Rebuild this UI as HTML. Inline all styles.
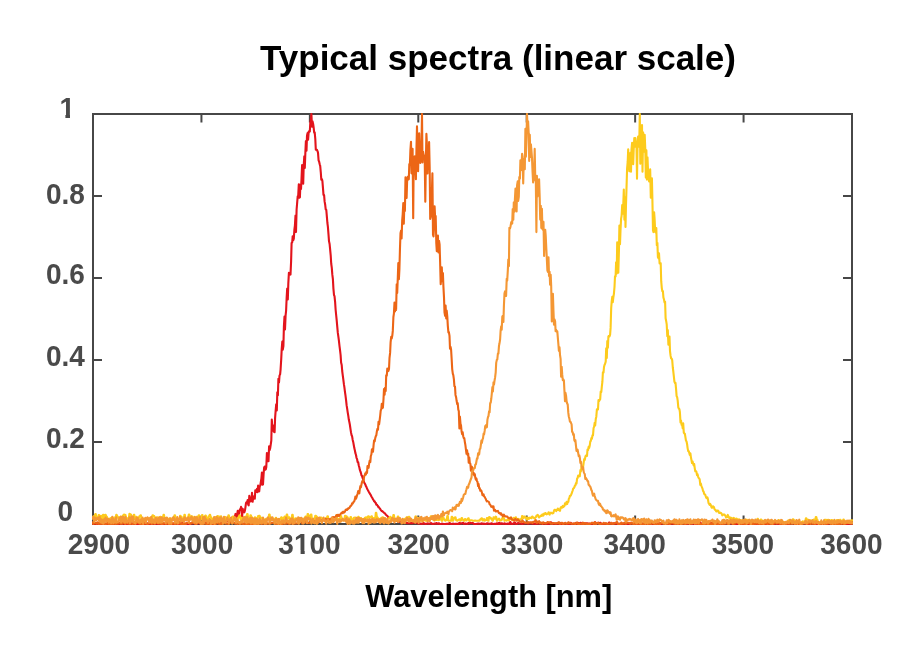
<!DOCTYPE html>
<html><head><meta charset="utf-8"><title>Typical spectra (linear scale)</title><style>
html,body{margin:0;padding:0;background:#fff;width:912px;height:651px;overflow:hidden}
svg{display:block;will-change:transform}
.t{font-family:"Liberation Sans",Arial,Helvetica,sans-serif;font-weight:bold}
</style></head><body>
<svg width="912" height="651" viewBox="0 0 912 651">
<rect width="912" height="651" fill="#fff"/>
<defs><clipPath id="c"><rect x="92" y="113" width="761" height="412"/></clipPath></defs>
<g fill="#474747" shape-rendering="crispEdges">
<rect x="92" y="113" width="2" height="412"/>
<rect x="851" y="113" width="2" height="412"/>
<rect x="92" y="113" width="761" height="2"/>
<rect x="92" y="523" width="761" height="2"/>
</g>
<g stroke="#474747" stroke-width="2">
<line x1="93.00" y1="115" x2="93.00" y2="122.5"/>
<line x1="93.00" y1="523" x2="93.00" y2="515.5"/>
<line x1="201.43" y1="115" x2="201.43" y2="122.5"/>
<line x1="201.43" y1="523" x2="201.43" y2="515.5"/>
<line x1="309.86" y1="115" x2="309.86" y2="122.5"/>
<line x1="309.86" y1="523" x2="309.86" y2="515.5"/>
<line x1="418.29" y1="115" x2="418.29" y2="122.5"/>
<line x1="418.29" y1="523" x2="418.29" y2="515.5"/>
<line x1="526.71" y1="115" x2="526.71" y2="122.5"/>
<line x1="526.71" y1="523" x2="526.71" y2="515.5"/>
<line x1="635.14" y1="115" x2="635.14" y2="122.5"/>
<line x1="635.14" y1="523" x2="635.14" y2="515.5"/>
<line x1="743.57" y1="115" x2="743.57" y2="122.5"/>
<line x1="743.57" y1="523" x2="743.57" y2="515.5"/>
<line x1="852.00" y1="115" x2="852.00" y2="122.5"/>
<line x1="852.00" y1="523" x2="852.00" y2="515.5"/>
<line x1="94" y1="524.00" x2="102" y2="524.00"/>
<line x1="851" y1="524.00" x2="843" y2="524.00"/>
<line x1="94" y1="442.00" x2="102" y2="442.00"/>
<line x1="851" y1="442.00" x2="843" y2="442.00"/>
<line x1="94" y1="360.00" x2="102" y2="360.00"/>
<line x1="851" y1="360.00" x2="843" y2="360.00"/>
<line x1="94" y1="278.00" x2="102" y2="278.00"/>
<line x1="851" y1="278.00" x2="843" y2="278.00"/>
<line x1="94" y1="196.00" x2="102" y2="196.00"/>
<line x1="851" y1="196.00" x2="843" y2="196.00"/>
<line x1="94" y1="114.00" x2="102" y2="114.00"/>
<line x1="851" y1="114.00" x2="843" y2="114.00"/>
</g>
<g clip-path="url(#c)" fill="none" stroke-width="2.1" stroke-linejoin="round">
<path d="M92.0 523.1 92.5 523.1 93.1 523.7 93.6 523.7 94.2 523.6 94.7 523.6 95.3 524.0 95.8 524.0 96.4 524.0 96.9 524.0 97.5 523.0 98.0 523.0 98.6 524.0 99.1 524.0 99.7 524.0 100.2 524.0 100.8 522.9 101.3 522.9 101.9 523.6 102.4 523.6 103.0 523.9 103.5 523.9 104.1 523.7 104.6 523.7 105.2 523.5 105.7 523.5 106.3 523.9 106.8 523.9 107.4 524.0 107.9 524.0 108.5 523.3 109.0 523.3 109.6 523.5 110.1 523.5 110.7 523.7 111.2 523.7 111.8 523.2 112.3 523.2 112.9 523.7 113.4 523.7 114.0 522.8 114.5 522.8 115.1 524.0 115.6 524.0 116.2 523.7 116.7 523.7 117.3 523.8 117.8 523.8 118.4 523.9 118.9 523.9 119.5 523.6 120.0 523.6 120.6 524.0 121.1 523.9 121.7 523.2 122.2 523.2 122.8 523.0 123.3 523.0 123.9 524.0 124.4 524.0 125.0 523.8 125.5 523.8 126.1 523.9 126.6 523.9 127.2 524.0 127.7 524.0 128.3 523.0 128.8 523.0 129.4 523.8 129.9 523.8 130.5 524.0 131.0 524.0 131.6 523.5 132.1 523.5 132.7 524.0 133.2 524.0 133.8 523.0 134.3 523.0 134.9 524.0 135.4 524.0 136.0 524.0 136.5 524.0 137.1 524.0 137.6 524.0 138.2 523.9 138.7 523.9 139.3 523.8 139.8 523.7 140.4 523.0 140.9 523.0 141.5 523.5 142.0 523.5 142.6 523.9 143.1 523.9 143.7 523.9 144.2 524.0 144.8 524.0 145.3 524.0 145.9 522.8 146.4 522.8 147.0 523.8 147.5 523.8 148.1 523.5 148.6 523.4 149.2 524.0 149.7 524.0 150.3 524.0 150.8 524.0 151.4 522.4 151.9 522.4 152.5 523.7 153.0 523.6 153.6 523.6 154.1 523.7 154.7 523.9 155.2 523.9 155.8 523.7 156.3 523.7 156.9 523.5 157.4 523.5 158.0 524.0 158.5 523.9 159.1 523.2 159.6 523.2 160.2 523.9 160.7 523.8 161.3 523.9 161.8 524.0 162.4 523.3 162.9 523.3 163.5 524.0 164.0 524.0 164.6 524.0 165.1 523.9 165.7 523.7 166.2 523.7 166.8 522.1 167.3 522.2 167.9 523.9 168.4 524.0 169.0 523.2 169.5 523.2 170.1 523.9 170.6 523.9 171.2 523.2 171.7 523.2 172.3 524.0 172.8 524.0 173.4 523.9 173.9 523.9 174.5 523.4 175.0 523.4 175.6 523.6 176.1 523.5 176.7 523.1 177.2 523.2 177.8 524.0 178.3 524.0 178.9 523.8 179.4 524.0 180.0 524.0 180.5 524.0 181.1 522.8 181.6 522.7 182.2 523.0 182.7 522.9 183.3 523.9 183.8 523.9 184.4 523.5 184.9 524.0 185.5 523.8 186.0 524.0 186.6 523.3 187.1 523.6 187.7 523.9 188.2 524.0 188.8 523.8 189.3 523.7 189.9 524.0 190.4 524.0 191.0 523.6 191.5 523.5 192.1 523.1 192.6 523.5 193.2 522.8 193.7 522.2 194.3 523.2 194.8 523.6 195.4 523.7 195.9 523.1 196.5 523.7 197.0 523.5 197.6 523.3 198.1 523.3 198.7 522.6 199.2 523.1 199.8 523.7 200.3 523.4 200.9 523.0 201.4 522.9 202.0 523.3 202.5 523.7 203.1 523.5 203.6 523.4 204.2 522.7 204.7 523.0 205.3 522.5 205.8 523.1 206.4 522.6 206.9 522.2 207.5 523.5 208.0 523.5 208.6 522.6 209.1 522.6 209.7 523.1 210.2 523.3 210.8 522.3 211.3 521.3 211.9 524.0 212.4 522.6 213.0 523.7 213.5 522.8 214.1 523.6 214.6 524.0 215.2 523.7 215.7 523.6 216.3 521.1 216.8 522.4 217.4 522.9 217.9 523.0 218.5 522.7 219.0 522.6 219.6 521.8 220.1 522.8 220.7 523.4 221.2 522.3 221.8 520.9 222.3 520.9 222.9 522.6 223.4 522.1 224.0 521.3 224.5 522.1 225.1 522.9 225.6 521.0 226.2 521.2 226.7 520.3 227.3 519.3 227.8 520.7 228.4 521.7 228.9 521.0 229.5 517.9 230.0 518.6 230.6 518.2 231.1 519.5 231.7 517.7 232.2 519.3 232.8 519.2 233.3 517.8 233.9 517.6 234.4 517.5 235.0 516.0 235.5 513.9 236.1 517.2 236.6 518.9 237.2 514.3 237.7 510.9 238.3 511.8 238.8 516.1 239.4 511.3 239.9 509.3 240.5 509.6 241.0 506.9 241.6 508.8 242.1 517.1 242.7 508.7 243.2 511.4 243.8 510.9 244.3 512.3 244.9 510.7 245.4 507.6 246.0 503.1 246.5 502.2 247.1 502.7 247.6 500.1 248.2 504.6 248.7 505.3 249.3 495.7 249.8 499.5 250.4 501.4 250.9 497.2 251.5 501.3 252.0 492.8 252.6 501.8 253.1 498.4 253.7 496.8 254.2 496.2 254.8 498.8 255.3 490.2 255.9 490.8 256.4 492.0 257.0 488.8 257.5 492.1 258.1 485.5 258.6 490.2 259.2 491.4 259.7 486.5 260.3 485.5 260.8 482.1 261.4 478.3 261.9 472.6 262.5 484.8 263.0 484.4 263.6 474.2 264.1 467.8 264.7 466.5 265.2 469.7 265.8 469.4 266.3 467.0 266.9 453.1 267.4 461.1 268.0 456.7 268.5 461.2 269.1 446.4 269.6 450.1 270.2 448.1 270.7 444.9 271.3 440.5 271.8 419.6 272.4 429.0 272.9 425.3 273.5 430.9 274.0 431.8 274.6 432.2 275.1 417.8 275.7 410.2 276.2 404.3 276.8 410.5 277.3 392.3 277.9 395.3 278.4 378.9 279.0 382.3 279.5 375.6 280.1 374.4 280.6 369.3 281.2 359.5 281.7 349.4 282.3 341.6 282.8 349.6 283.4 346.0 283.9 326.5 284.5 316.6 285.0 329.4 285.6 315.3 286.1 310.7 286.7 296.8 287.2 288.5 287.8 299.5 288.3 283.9 288.9 272.7 289.4 274.3 290.0 272.8 290.5 274.6 291.1 261.3 291.6 243.0 292.2 242.4 292.7 236.2 293.3 240.1 293.8 238.7 294.4 229.6 294.9 225.7 295.5 215.6 296.0 232.0 296.6 209.5 297.1 203.5 297.7 196.4 298.2 196.1 298.8 184.3 299.3 197.8 299.9 197.2 300.4 184.5 301.0 188.9 301.5 179.4 302.1 165.0 302.6 168.4 303.2 183.8 303.7 165.8 304.3 156.2 304.8 168.0 305.4 151.5 305.9 141.1 306.5 150.6 307.0 135.8 307.6 133.0 308.1 139.6 308.7 131.7 309.2 131.0 309.8 131.6 310.3 122.7 310.9 119.3 311.4 114.0 312.0 126.7 312.5 121.3 313.1 123.7 313.6 127.2 314.2 132.7 314.7 132.3 315.3 139.0 315.8 149.7 316.4 149.7 316.9 149.8 317.5 151.1 318.0 152.6 318.6 160.5 319.1 161.5 319.7 164.3 320.2 165.9 320.8 172.5 321.3 179.6 321.9 179.1 322.4 181.1 323.0 188.4 323.5 194.9 324.1 195.1 324.6 201.4 325.2 204.8 325.7 209.3 326.3 210.0 326.8 215.8 327.4 223.0 327.9 226.8 328.5 234.3 329.0 241.1 329.6 244.0 330.1 249.1 330.7 255.3 331.2 263.5 331.8 267.8 332.3 274.4 332.9 279.1 333.4 288.4 334.0 295.0 334.5 296.1 335.1 301.8 335.6 309.5 336.2 315.5 336.7 320.4 337.3 327.1 337.8 332.7 338.4 336.9 338.9 340.6 339.5 346.0 340.0 349.8 340.6 355.0 341.1 362.5 341.7 365.0 342.2 371.0 342.8 375.6 343.3 379.4 343.9 384.2 344.4 387.4 345.0 392.1 345.5 395.6 346.1 400.4 346.6 405.2 347.2 408.9 347.7 412.3 348.3 415.9 348.8 419.6 349.4 422.3 349.9 425.0 350.5 429.2 351.0 432.4 351.6 435.3 352.1 436.3 352.7 439.9 353.2 441.9 353.8 445.3 354.3 448.1 354.9 450.5 355.4 453.2 356.0 455.0 356.5 457.8 357.1 459.2 357.6 462.1 358.2 462.3 358.7 465.2 359.3 467.2 359.8 469.7 360.4 471.5 360.9 472.8 361.5 475.5 362.0 475.9 362.6 478.0 363.1 478.9 363.7 481.1 364.2 482.4 364.8 483.5 365.3 484.4 365.9 486.1 366.4 486.8 367.0 488.5 367.5 489.4 368.1 490.6 368.6 491.5 369.2 492.5 369.7 493.4 370.3 494.3 370.8 495.1 371.4 496.5 371.9 497.3 372.5 498.3 373.0 499.4 373.6 500.1 374.1 501.2 374.7 501.3 375.2 502.6 375.8 502.9 376.3 504.7 376.9 504.5 377.4 505.3 378.0 506.2 378.5 507.3 379.1 507.4 379.6 508.4 380.2 508.9 380.7 509.8 381.3 510.6 381.8 511.2 382.4 511.1 382.9 511.8 383.5 512.3 384.0 512.8 384.6 513.3 385.1 513.5 385.7 514.5 386.2 515.0 386.8 515.5 387.3 515.9 387.9 516.9 388.4 517.3 389.0 517.8 389.5 518.1 390.1 518.2 390.6 518.8 391.2 518.6 391.7 519.0 392.3 519.6 392.8 520.0 393.4 519.5 393.9 519.9 394.5 520.2 395.0 520.4 395.6 520.7 396.1 520.9 396.7 519.4 397.2 519.6 397.8 521.8 398.3 521.7 398.9 521.7 399.4 521.9 400.0 521.6 400.5 521.7 401.1 521.3 401.6 521.5 402.2 522.4 402.7 522.3 403.3 522.6 403.8 522.6 404.4 522.9 404.9 523.0 405.5 522.5 406.0 522.6 406.6 523.0 407.1 523.0 407.7 523.1 408.2 523.1 408.8 523.2 409.3 523.3 409.9 523.2 410.4 523.3 411.0 523.1 411.5 523.1 412.1 523.2 412.6 523.3 413.2 522.6 413.7 522.7 414.3 522.6 414.8 522.7 415.4 522.6 415.9 522.7 416.5 522.6 417.0 522.7 417.6 523.4 418.1 523.5 418.7 523.4 419.2 523.4 419.8 523.6 420.3 523.6 420.9 523.6 421.4 523.7 422.0 523.9 422.5 523.8 423.1 522.8 423.6 522.8 424.2 523.8 424.7 523.8 425.3 523.9 425.8 523.9 426.4 523.7 426.9 523.7 427.5 523.3 428.0 523.3 428.6 523.7 429.1 523.7 429.7 523.5 430.2 523.5 430.8 523.0 431.3 523.0 431.9 523.9 432.4 523.9 433.0 524.0 433.5 524.0 434.1 523.6 434.6 523.5 435.2 523.7 435.7 523.7 436.3 523.1 436.8 523.1 437.4 523.8 437.9 523.8 438.5 523.2 439.0 523.3 439.6 524.0 440.1 524.0 440.7 524.0 441.2 524.0 441.8 523.6 442.3 523.6 442.9 523.9 443.4 524.0 444.0 524.0 444.5 524.0 445.1 524.0 445.6 524.0 446.2 523.8 446.7 523.9 447.3 523.9 447.8 523.9 448.4 523.6 448.9 523.6 449.5 523.0 450.0 523.0 450.6 523.9 451.1 523.9 451.7 524.0 452.2 524.0 452.8 523.6 453.3 523.6 453.9 524.0 454.4 524.0 455.0 523.8 455.5 523.8 456.1 523.9 456.6 523.9 457.2 523.8 457.7 523.8 458.3 524.0 458.8 524.0 459.4 522.8 459.9 522.8 460.5 523.6 461.0 523.6 461.6 523.3 462.1 523.3 462.7 522.9 463.2 522.9 463.8 523.9 464.3 523.9 464.9 523.5 465.4 523.5 466.0 523.8 466.5 523.8 467.1 524.0 467.6 524.0 468.2 523.0 468.7 523.1 469.3 523.4 469.8 523.4 470.4 522.9 470.9 522.9 471.5 523.2 472.0 523.2 472.6 523.0 473.1 523.0 473.7 524.0 474.2 524.0 474.8 524.0 475.3 524.0 475.9 524.0 476.4 524.0 477.0 523.8 477.5 523.8 478.1 523.5 478.6 523.5 479.2 523.8 479.7 523.8 480.3 523.7 480.8 523.7 481.4 523.3 481.9 523.3 482.5 524.0 483.0 524.0 483.6 523.5 484.1 523.5 484.7 524.0 485.2 524.0 485.8 523.9 486.3 523.9 486.9 523.4 487.4 523.4 488.0 523.5 488.5 523.5 489.1 523.8 489.6 523.8 490.2 523.9 490.7 523.9 491.3 523.2 491.8 523.2 492.4 523.9 492.9 523.9 493.5 524.0 494.0 524.0 494.6 523.9 495.1 523.9 495.7 524.0 496.2 524.0 496.8 523.2 497.3 523.2 497.9 524.0 498.4 524.0 499.0 522.8 499.5 522.8 500.1 524.0 500.6 524.0 501.2 523.2 501.7 523.2 502.3 523.6 502.8 523.6 503.4 523.9 503.9 523.9 504.5 523.4 505.0 523.4 505.6 524.0 506.1 524.0 506.7 523.8 507.2 523.8 507.8 523.5 508.3 523.5 508.9 524.0 509.4 524.0 510.0 522.1 510.5 522.1 511.1 523.9 511.6 523.9 512.2 523.9 512.7 523.9 513.3 523.5 513.8 523.5 514.4 522.3 514.9 522.3 515.5 523.9 516.0 523.9 516.6 523.9 517.1 523.9 517.7 523.1 518.2 523.1 518.8 523.3 519.3 523.3 519.9 523.6 520.4 523.6 521.0 523.4 521.5 523.4 522.1 524.0 522.6 524.0 523.2 523.3 523.7 523.3 524.3 523.4 524.8 523.4 525.4 523.0 525.9 523.0 526.5 523.3 527.0 523.3 527.6 523.8 528.1 523.8 528.7 523.4 529.2 523.4 529.8 523.0 530.3 523.0 530.9 523.4 531.4 523.4 532.0 523.6 532.5 523.6 533.1 523.5 533.6 523.5 534.2 523.8 534.7 523.8 535.3 523.9 535.8 523.9 536.4 523.6 536.9 523.6 537.5 523.8 538.0 523.8 538.6 523.4 539.1 523.4 539.7 522.9 540.2 522.9 540.8 523.1 541.3 523.1 541.9 523.8 542.4 523.8 543.0 523.9 543.5 523.9 544.1 523.0 544.6 523.0 545.2 523.8 545.7 523.8 546.3 523.2 546.8 523.2 547.4 524.0 547.9 524.0 548.5 523.8 549.0 523.8 549.6 523.7 550.1 523.7 550.7 522.3 551.2 522.3 551.8 523.1 552.3 523.1 552.9 524.0 553.4 524.0 554.0 523.6 554.5 523.6 555.1 523.6 555.6 523.6 556.2 524.0 556.7 524.0 557.3 523.2 557.8 523.2 558.4 523.7 558.9 523.7 559.5 522.9 560.0 522.9 560.6 524.0 561.1 524.0 561.7 523.7 562.2 523.7 562.8 523.9 563.3 523.9 563.9 523.5 564.4 523.5 565.0 523.6 565.5 523.6 566.1 523.7 566.6 523.7 567.2 523.9 567.7 523.9 568.3 523.7 568.8 523.7 569.4 523.9 569.9 523.9 570.5 522.9 571.0 522.9 571.6 523.8 572.1 523.8 572.7 523.8 573.2 523.8 573.8 523.9 574.3 523.9 574.9 523.9 575.4 523.9 576.0 522.9 576.5 522.9 577.1 523.9 577.6 523.9 578.2 523.1 578.7 523.1 579.3 523.6 579.8 523.6 580.4 522.8 580.9 522.8 581.5 524.0 582.0 524.0 582.6 522.9 583.1 522.9 583.7 523.3 584.2 523.3 584.8 523.6 585.3 523.6 585.9 523.4 586.4 523.4 587.0 523.4 587.5 523.4 588.1 523.8 588.6 523.8 589.2 523.5 589.7 523.5 590.3 524.0 590.8 524.0 591.4 524.0 591.9 524.0 592.5 523.5 593.0 523.5 593.6 523.8 594.1 523.8 594.7 522.2 595.2 522.2 595.8 523.9 596.3 523.9 596.9 523.2 597.4 523.2 598.0 522.8 598.5 522.8 599.1 523.0 599.6 523.0 600.2 522.9 600.7 522.9 601.3 524.0 601.8 524.0 602.4 524.0 602.9 524.0 603.5 524.0 604.0 524.0 604.6 523.9 605.1 523.9 605.7 524.0 606.2 524.0 606.8 524.0 607.3 524.0 607.9 524.0 608.4 524.0 609.0 522.5 609.5 522.5 610.1 523.3 610.6 523.3 611.2 523.6 611.7 523.6 612.3 523.8 612.8 523.8 613.4 523.4 613.9 523.4 614.5 523.2 615.0 523.2 615.6 523.9 616.1 523.9 616.7 523.5 617.2 523.5 617.8 524.0 618.3 524.0 618.9 523.9 619.4 523.9 620.0 524.0 620.5 524.0 621.1 523.9 621.6 523.9 622.2 523.9 622.7 523.9 623.3 523.6 623.8 523.6 624.4 523.9 624.9 523.9 625.5 523.9 626.0 523.9 626.6 523.2 627.1 523.2 627.7 524.0 628.2 524.0 628.8 523.4 629.3 523.4 629.9 524.0 630.4 524.0 631.0 523.1 631.5 523.1 632.1 523.2 632.6 523.2 633.2 523.4 633.7 523.4 634.3 522.9 634.8 522.9 635.4 524.0 635.9 524.0 636.5 523.0 637.0 523.0 637.6 523.9 638.1 523.9 638.7 523.7 639.2 523.7 639.8 523.5 640.3 523.5 640.9 523.3 641.4 523.3 642.0 523.9 642.5 523.9 643.1 523.8 643.6 523.8 644.2 524.0 644.7 524.0 645.3 523.9 645.8 523.9 646.4 522.8 646.9 522.8 647.5 523.0 648.0 523.0 648.6 523.6 649.1 523.6 649.7 522.7 650.2 522.7 650.8 523.0 651.3 523.0 651.9 523.9 652.4 523.9 653.0 522.8 653.5 522.8 654.1 523.8 654.6 523.8 655.2 524.0 655.7 524.0 656.3 523.7 656.8 523.7 657.4 523.6 657.9 523.6 658.5 523.5 659.0 523.5 659.6 523.2 660.1 523.2 660.7 524.0 661.2 524.0 661.8 523.5 662.3 523.5 662.9 523.0 663.4 523.0 664.0 523.5 664.5 523.5 665.1 522.8 665.6 522.8 666.2 523.7 666.7 523.7 667.3 523.2 667.8 523.2 668.4 524.0 668.9 524.0 669.5 523.0 670.0 523.0 670.6 523.8 671.1 523.8 671.7 523.1 672.2 523.1 672.8 523.9 673.3 523.9 673.9 523.6 674.4 523.6 675.0 523.1 675.5 523.1 676.1 523.4 676.6 523.4 677.2 523.6 677.7 523.6 678.3 522.8 678.8 522.8 679.4 524.0 679.9 524.0 680.5 524.0 681.0 524.0 681.6 523.7 682.1 523.7 682.7 522.9 683.2 522.9 683.8 523.5 684.3 523.5 684.9 523.9 685.4 523.9 686.0 524.0 686.5 524.0 687.1 523.8 687.6 523.8 688.2 523.8 688.7 523.8 689.3 523.8 689.8 523.8 690.4 523.6 690.9 523.6 691.5 523.9 692.0 523.9 692.6 523.1 693.1 523.1 693.7 523.9 694.2 523.9 694.8 524.0 695.3 524.0 695.9 523.9 696.4 523.9 697.0 522.9 697.5 522.9 698.1 524.0 698.6 524.0 699.2 523.9 699.7 523.9 700.3 523.0 700.8 523.0 701.4 523.9 701.9 523.9 702.5 523.2 703.0 523.2 703.6 524.0 704.1 524.0 704.7 523.0 705.2 523.0 705.8 523.9 706.3 523.9 706.9 524.0 707.4 524.0 708.0 523.4 708.5 523.4 709.1 521.8 709.6 521.8 710.2 522.9 710.7 522.9 711.3 523.3 711.8 523.3 712.4 522.7 712.9 522.7 713.5 522.8 714.0 522.8 714.6 523.7 715.1 523.7 715.7 524.0 716.2 524.0 716.8 523.1 717.3 523.1 717.9 523.8 718.4 523.8 719.0 523.9 719.5 523.9 720.1 523.7 720.6 523.7 721.2 524.0 721.7 524.0 722.3 524.0 722.8 524.0 723.4 523.9 723.9 523.9 724.5 523.6 725.0 523.6 725.6 523.3 726.1 523.3 726.7 522.9 727.2 522.9 727.8 523.2 728.3 523.2 728.9 522.9 729.4 522.9 730.0 523.5 730.5 523.5 731.1 523.4 731.6 523.4 732.2 523.6 732.7 523.6 733.3 524.0 733.8 524.0 734.4 524.0 734.9 524.0 735.5 523.3 736.0 523.3 736.6 523.9 737.1 523.9 737.7 523.3 738.2 523.3 738.8 523.8 739.3 523.8 739.9 524.0 740.4 524.0 741.0 523.7 741.5 523.7 742.1 523.8 742.6 523.8 743.2 524.0 743.7 524.0 744.3 523.9 744.8 523.9 745.4 523.9 745.9 523.9 746.5 523.9 747.0 523.9 747.6 523.4 748.1 523.4 748.7 524.0 749.2 524.0 749.8 523.8 750.3 523.8 750.9 523.6 751.4 523.6 752.0 522.9 752.5 522.9 753.1 524.0 753.6 524.0 754.2 524.0 754.7 524.0 755.3 523.7 755.8 523.7 756.4 524.0 756.9 524.0 757.5 523.7 758.0 523.7 758.6 524.0 759.1 524.0 759.7 524.0 760.2 524.0 760.8 524.0 761.3 524.0 761.9 523.8 762.4 523.8 763.0 523.5 763.5 523.5 764.1 523.9 764.6 523.9 765.2 524.0 765.7 524.0 766.3 524.0 766.8 524.0 767.4 523.9 767.9 523.9 768.5 524.0 769.0 524.0 769.6 523.8 770.1 523.8 770.7 523.1 771.2 523.1 771.8 523.4 772.3 523.4 772.9 524.0 773.4 524.0 774.0 524.0 774.5 524.0 775.1 523.2 775.6 523.2 776.2 523.5 776.7 523.5 777.3 523.9 777.8 523.9 778.4 523.5 778.9 523.5 779.5 524.0 780.0 524.0 780.6 523.9 781.1 523.9 781.7 523.5 782.2 523.5 782.8 523.4 783.3 523.4 783.9 523.7 784.4 523.7 785.0 523.0 785.5 523.0 786.1 524.0 786.6 524.0 787.2 524.0 787.7 524.0 788.3 523.6 788.8 523.6 789.4 523.6 789.9 523.6 790.5 522.8 791.0 522.8 791.6 522.8 792.1 522.8 792.7 523.6 793.2 523.6 793.8 523.3 794.3 523.3 794.9 523.4 795.4 523.4 796.0 524.0 796.5 524.0 797.1 523.6 797.6 523.6 798.2 523.9 798.7 523.9 799.3 523.2 799.8 523.2 800.4 524.0 800.9 524.0 801.5 524.0 802.0 524.0 802.6 523.1 803.1 523.1 803.7 523.4 804.2 523.4 804.8 523.3 805.3 523.3 805.9 523.9 806.4 523.9 807.0 523.8 807.5 523.8 808.1 524.0 808.6 524.0 809.2 523.6 809.7 523.6 810.3 523.2 810.8 523.2 811.4 523.3 811.9 523.3 812.5 522.9 813.0 522.9 813.6 523.9 814.1 523.9 814.7 523.4 815.2 523.4 815.8 524.0 816.3 524.0 816.9 523.7 817.4 523.7 818.0 524.0 818.5 524.0 819.1 523.7 819.6 523.7 820.2 522.7 820.7 522.7 821.3 523.9 821.8 523.9 822.4 523.9 822.9 523.9 823.5 523.4 824.0 523.4 824.6 523.8 825.1 523.8 825.7 523.8 826.2 523.8 826.8 524.0 827.3 524.0 827.9 523.9 828.4 523.9 829.0 523.1 829.5 523.1 830.1 522.8 830.6 522.8 831.2 523.9 831.7 523.9 832.3 523.1 832.8 523.1 833.4 523.1 833.9 523.1 834.5 524.0 835.0 524.0 835.6 523.9 836.1 523.9 836.7 523.4 837.2 523.4 837.8 523.0 838.3 523.0 838.9 522.9 839.4 522.9 840.0 523.9 840.5 523.9 841.1 523.4 841.6 523.4 842.2 523.4 842.7 523.4 843.3 524.0 843.8 524.0 844.4 523.1 844.9 523.1 845.5 523.9 846.0 523.9 846.6 524.0 847.1 524.0 847.7 524.0 848.2 524.0 848.8 523.8 849.3 523.8 849.9 523.5 850.4 523.5 851.0 523.9 851.5 523.9 852.1 522.7 852.6 522.7 853.2 523.9" stroke="#e3141c"/>
<path d="M92.0 518.1 92.5 518.1 93.1 516.5 93.6 516.5 94.2 515.9 94.7 515.9 95.3 514.1 95.8 514.1 96.4 518.7 96.9 518.7 97.5 518.7 98.0 518.7 98.6 515.1 99.1 515.1 99.7 519.0 100.2 519.0 100.8 515.8 101.3 515.8 101.9 518.7 102.4 518.7 103.0 514.8 103.5 514.8 104.1 518.1 104.6 518.1 105.2 514.8 105.7 514.8 106.3 516.6 106.8 516.6 107.4 519.1 107.9 519.1 108.5 518.7 109.0 518.7 109.6 518.8 110.1 518.8 110.7 518.0 111.2 518.0 111.8 517.8 112.3 517.8 112.9 518.9 113.4 518.9 114.0 517.5 114.5 517.5 115.1 517.7 115.6 517.7 116.2 514.9 116.7 514.9 117.3 516.5 117.8 516.5 118.4 518.9 118.9 518.9 119.5 519.1 120.0 519.1 120.6 516.9 121.1 516.9 121.7 518.2 122.2 518.2 122.8 515.6 123.3 515.6 123.9 514.6 124.4 514.6 125.0 514.9 125.5 515.0 126.1 519.0 126.6 519.0 127.2 518.2 127.7 518.2 128.3 518.7 128.8 518.7 129.4 513.9 129.9 513.9 130.5 514.6 131.0 514.6 131.6 517.2 132.1 517.2 132.7 519.3 133.2 519.3 133.8 514.8 134.3 514.8 134.9 519.3 135.4 519.3 136.0 516.9 136.5 516.9 137.1 518.7 137.6 518.7 138.2 519.1 138.7 519.1 139.3 516.2 139.8 516.3 140.4 515.2 140.9 515.2 141.5 518.8 142.0 518.8 142.6 518.9 143.1 518.9 143.7 519.2 144.2 519.2 144.8 518.8 145.3 518.8 145.9 518.3 146.4 518.3 147.0 518.3 147.5 518.3 148.1 519.3 148.6 519.3 149.2 519.3 149.7 519.3 150.3 517.6 150.8 517.7 151.4 519.3 151.9 519.3 152.5 515.3 153.0 515.3 153.6 515.7 154.1 515.7 154.7 518.0 155.2 518.0 155.8 519.3 156.3 519.3 156.9 517.2 157.4 517.2 158.0 518.1 158.5 518.1 159.1 518.6 159.6 518.6 160.2 516.8 160.7 516.8 161.3 519.1 161.8 519.1 162.4 517.7 162.9 517.7 163.5 514.9 164.0 514.9 164.6 519.1 165.1 519.1 165.7 519.4 166.2 519.4 166.8 517.8 167.3 517.8 167.9 519.2 168.4 519.2 169.0 518.9 169.5 518.9 170.1 519.0 170.6 519.0 171.2 518.6 171.7 518.6 172.3 519.1 172.8 519.1 173.4 518.5 173.9 518.5 174.5 515.2 175.0 515.2 175.6 518.9 176.1 518.9 176.7 519.3 177.2 519.3 177.8 519.5 178.3 519.5 178.9 519.5 179.4 519.5 180.0 515.8 180.5 515.8 181.1 516.8 181.6 516.8 182.2 519.3 182.7 519.3 183.3 518.9 183.8 518.9 184.4 514.8 184.9 514.8 185.5 519.0 186.0 519.0 186.6 519.5 187.1 519.5 187.7 517.7 188.2 517.7 188.8 514.5 189.3 514.5 189.9 518.8 190.4 518.8 191.0 516.2 191.5 516.2 192.1 516.6 192.6 516.6 193.2 517.7 193.7 517.7 194.3 519.4 194.8 519.4 195.4 519.5 195.9 519.5 196.5 516.8 197.0 516.8 197.6 517.5 198.1 517.5 198.7 515.3 199.2 515.3 199.8 519.5 200.3 519.5 200.9 519.4 201.4 519.4 202.0 515.1 202.5 515.1 203.1 519.0 203.6 519.0 204.2 517.3 204.7 517.3 205.3 515.6 205.8 515.6 206.4 518.3 206.9 518.3 207.5 519.6 208.0 519.6 208.6 516.3 209.1 516.3 209.7 514.9 210.2 514.9 210.8 517.4 211.3 517.4 211.9 519.3 212.4 519.3 213.0 518.8 213.5 518.8 214.1 519.2 214.6 519.2 215.2 517.0 215.7 517.0 216.3 518.4 216.8 518.4 217.4 516.0 217.9 516.1 218.5 518.2 219.0 518.2 219.6 516.6 220.1 516.6 220.7 516.4 221.2 516.4 221.8 519.7 222.3 519.7 222.9 519.6 223.4 519.7 224.0 519.7 224.5 519.7 225.1 517.0 225.6 517.0 226.2 519.0 226.7 519.0 227.3 519.3 227.8 519.3 228.4 515.4 228.9 515.4 229.5 518.3 230.0 518.3 230.6 518.7 231.1 518.7 231.7 519.7 232.2 519.7 232.8 516.5 233.3 516.6 233.9 519.7 234.4 519.7 235.0 517.8 235.5 517.8 236.1 519.3 236.6 519.3 237.2 519.1 237.7 519.1 238.3 517.2 238.8 517.2 239.4 515.4 239.9 515.4 240.5 519.2 241.0 519.2 241.6 517.7 242.1 517.7 242.7 518.5 243.2 518.5 243.8 518.5 244.3 518.5 244.9 516.8 245.4 516.8 246.0 517.3 246.5 517.3 247.1 514.0 247.6 514.1 248.2 518.4 248.7 518.5 249.3 519.8 249.8 519.8 250.4 515.4 250.9 515.4 251.5 517.3 252.0 517.3 252.6 519.8 253.1 519.8 253.7 519.2 254.2 519.2 254.8 517.3 255.3 517.3 255.9 518.1 256.4 518.1 257.0 519.4 257.5 519.4 258.1 516.0 258.6 516.0 259.2 515.8 259.7 515.8 260.3 517.7 260.8 517.7 261.4 517.9 261.9 517.9 262.5 519.1 263.0 519.1 263.6 519.9 264.1 519.9 264.7 519.7 265.2 519.7 265.8 518.7 266.3 518.8 266.9 519.8 267.4 519.8 268.0 518.3 268.5 518.3 269.1 514.5 269.6 514.5 270.2 518.2 270.7 518.2 271.3 518.5 271.8 518.5 272.4 518.2 272.9 518.3 273.5 519.2 274.0 519.2 274.6 519.5 275.1 519.5 275.7 517.8 276.2 517.8 276.8 519.2 277.3 519.2 277.9 519.9 278.4 519.9 279.0 519.9 279.5 519.9 280.1 519.3 280.6 519.3 281.2 517.2 281.7 517.2 282.3 520.0 282.8 520.0 283.4 518.0 283.9 518.0 284.5 516.6 285.0 516.6 285.6 520.0 286.1 520.0 286.7 514.6 287.2 514.6 287.8 518.0 288.3 518.0 288.9 517.4 289.4 517.4 290.0 520.0 290.5 520.0 291.1 519.5 291.6 519.5 292.2 514.9 292.7 514.9 293.3 519.9 293.8 519.9 294.4 518.9 294.9 518.9 295.5 518.3 296.0 518.3 296.6 519.2 297.1 519.2 297.7 518.9 298.2 518.9 298.8 520.1 299.3 520.1 299.9 520.1 300.4 520.1 301.0 519.4 301.5 519.4 302.1 519.3 302.6 519.3 303.2 519.1 303.7 519.1 304.3 518.2 304.8 518.2 305.4 516.5 305.9 516.5 306.5 519.9 307.0 519.9 307.6 514.0 308.1 514.1 308.7 515.6 309.2 515.6 309.8 520.1 310.3 520.1 310.9 514.5 311.4 514.5 312.0 520.0 312.5 520.0 313.1 520.1 313.6 520.2 314.2 519.3 314.7 519.3 315.3 515.7 315.8 515.7 316.4 516.6 316.9 516.6 317.5 519.5 318.0 519.5 318.6 520.1 319.1 520.1 319.7 519.6 320.2 519.6 320.8 517.6 321.3 517.6 321.9 520.2 322.4 520.2 323.0 518.6 323.5 518.6 324.1 520.1 324.6 520.1 325.2 518.2 325.7 518.2 326.3 518.8 326.8 518.8 327.4 516.2 327.9 516.2 328.5 520.0 329.0 520.0 329.6 519.3 330.1 519.3 330.7 520.2 331.2 520.2 331.8 518.1 332.3 518.2 332.9 519.6 333.4 519.6 334.0 520.1 334.5 520.1 335.1 519.9 335.6 519.9 336.2 515.3 336.7 515.3 337.3 520.2 337.8 520.2 338.4 519.0 338.9 519.1 339.5 520.1 340.0 520.1 340.6 516.0 341.1 516.0 341.7 520.3 342.2 520.3 342.8 520.3 343.3 520.3 343.9 520.3 344.4 520.3 345.0 515.9 345.5 515.9 346.1 516.2 346.6 516.2 347.2 517.3 347.7 517.3 348.3 520.3 348.8 520.3 349.4 520.1 349.9 520.1 350.5 517.0 351.0 517.0 351.6 519.6 352.1 519.6 352.7 520.3 353.2 520.3 353.8 517.9 354.3 517.9 354.9 517.5 355.4 517.5 356.0 518.1 356.5 518.1 357.1 520.0 357.6 520.0 358.2 516.9 358.7 516.9 359.3 520.4 359.8 520.4 360.4 518.0 360.9 518.0 361.5 518.7 362.0 518.7 362.6 519.5 363.1 519.5 363.7 519.6 364.2 519.6 364.8 517.9 365.3 517.9 365.9 517.4 366.4 517.4 367.0 518.5 367.5 518.5 368.1 516.2 368.6 516.2 369.2 517.0 369.7 517.0 370.3 517.5 370.8 517.5 371.4 516.3 371.9 516.3 372.5 520.4 373.0 520.4 373.6 518.0 374.1 518.0 374.7 519.2 375.2 519.2 375.8 512.9 376.3 512.9 376.9 517.1 377.4 517.1 378.0 518.4 378.5 518.4 379.1 519.0 379.6 519.0 380.2 520.0 380.7 520.0 381.3 517.8 381.8 517.8 382.4 517.4 382.9 517.4 383.5 518.1 384.0 518.1 384.6 518.6 385.1 518.6 385.7 520.5 386.2 520.5 386.8 519.6 387.3 519.6 387.9 518.5 388.4 518.5 389.0 518.1 389.5 518.1 390.1 516.9 390.6 516.9 391.2 520.5 391.7 520.5 392.3 519.9 392.8 519.9 393.4 515.0 393.9 515.0 394.5 519.6 395.0 519.7 395.6 520.5 396.1 520.5 396.7 520.6 397.2 520.6 397.8 516.5 398.3 516.5 398.9 520.5 399.4 520.5 400.0 519.8 400.5 519.8 401.1 519.9 401.6 519.9 402.2 520.0 402.7 520.0 403.3 519.9 403.8 519.9 404.4 519.1 404.9 519.1 405.5 518.3 406.0 518.3 406.6 517.2 407.1 517.2 407.7 519.6 408.2 519.6 408.8 516.7 409.3 516.7 409.9 520.6 410.4 520.6 411.0 520.6 411.5 520.6 412.1 520.6 412.6 520.6 413.2 520.4 413.7 520.4 414.3 519.6 414.8 519.6 415.4 516.5 415.9 516.4 416.5 520.3 417.0 520.3 417.6 517.7 418.1 517.7 418.7 520.5 419.2 520.5 419.8 520.7 420.3 520.6 420.9 520.6 421.4 520.6 422.0 520.5 422.5 520.5 423.1 520.5 423.6 520.5 424.2 519.9 424.7 519.9 425.3 520.7 425.8 520.7 426.4 520.6 426.9 520.6 427.5 520.7 428.0 520.7 428.6 518.7 429.1 518.7 429.7 518.4 430.2 518.4 430.8 516.4 431.3 516.3 431.9 517.7 432.4 517.7 433.0 517.8 433.5 517.8 434.1 520.5 434.6 520.5 435.2 517.6 435.7 517.6 436.3 520.0 436.8 520.0 437.4 518.9 437.9 518.9 438.5 520.1 439.0 520.0 439.6 519.4 440.1 519.4 440.7 517.8 441.2 517.7 441.8 520.7 442.3 520.7 442.9 517.2 443.4 517.2 444.0 519.2 444.5 519.2 445.1 520.7 445.6 520.7 446.2 519.9 446.7 519.9 447.3 516.1 447.8 516.0 448.4 520.7 448.9 520.8 449.5 520.8 450.0 520.8 450.6 520.8 451.1 520.8 451.7 516.7 452.2 516.7 452.8 520.6 453.3 520.6 453.9 518.1 454.4 518.2 455.0 517.2 455.5 517.2 456.1 520.1 456.6 520.1 457.2 520.7 457.7 520.7 458.3 519.9 458.8 519.8 459.4 519.2 459.9 519.2 460.5 520.6 461.0 520.5 461.6 518.0 462.1 518.0 462.7 519.8 463.2 519.7 463.8 520.8 464.3 520.7 464.9 519.1 465.4 519.1 466.0 520.4 466.5 520.4 467.1 519.4 467.6 519.4 468.2 518.3 468.7 518.4 469.3 520.9 469.8 520.9 470.4 520.2 470.9 520.2 471.5 520.2 472.0 520.2 472.6 520.7 473.1 520.7 473.7 520.7 474.2 520.7 474.8 520.6 475.3 520.6 475.9 520.7 476.4 520.8 477.0 520.7 477.5 520.8 478.1 520.7 478.6 520.6 479.2 520.5 479.7 520.6 480.3 519.2 480.8 519.2 481.4 518.3 481.9 518.4 482.5 520.4 483.0 520.5 483.6 519.2 484.1 519.1 484.7 520.6 485.2 520.5 485.8 520.0 486.3 520.0 486.9 518.1 487.4 518.0 488.0 520.8 488.5 520.8 489.1 517.1 489.6 517.1 490.2 517.9 490.7 517.9 491.3 518.9 491.8 518.9 492.4 520.6 492.9 520.6 493.5 517.4 494.0 517.3 494.6 518.7 495.1 518.7 495.7 516.7 496.2 516.9 496.8 520.6 497.3 520.6 497.9 519.4 498.4 519.5 499.0 518.6 499.5 519.1 500.1 520.5 500.6 520.4 501.2 520.2 501.7 520.0 502.3 518.1 502.8 518.2 503.4 517.6 503.9 517.9 504.5 520.7 505.0 520.2 505.6 520.2 506.1 520.2 506.7 520.6 507.2 520.4 507.8 519.1 508.3 519.3 508.9 520.4 509.4 520.1 510.0 517.8 510.5 517.6 511.1 518.9 511.6 519.0 512.2 520.1 512.7 520.1 513.3 518.3 513.8 517.8 514.4 520.3 514.9 520.2 515.5 517.5 516.0 517.3 516.6 519.7 517.1 520.1 517.7 519.1 518.2 518.8 518.8 520.0 519.3 520.0 519.9 519.5 520.4 519.2 521.0 519.3 521.5 519.4 522.1 516.0 522.6 516.2 523.2 517.8 523.7 518.0 524.3 516.5 524.8 516.7 525.4 517.2 525.9 517.2 526.5 519.0 527.0 519.6 527.6 517.6 528.1 517.7 528.7 518.8 529.2 518.5 529.8 517.7 530.3 518.0 530.9 517.9 531.4 518.2 532.0 516.7 532.5 516.5 533.1 517.6 533.6 517.8 534.2 518.1 534.7 518.7 535.3 517.5 535.8 517.3 536.4 515.8 536.9 515.6 537.5 514.8 538.0 515.1 538.6 516.9 539.1 517.4 539.7 516.7 540.2 516.4 540.8 515.6 541.3 516.0 541.9 515.1 542.4 514.4 543.0 515.7 543.5 515.4 544.1 513.6 544.6 514.0 545.2 513.0 545.7 513.1 546.3 514.3 546.8 514.4 547.4 513.7 547.9 513.8 548.5 512.4 549.0 512.5 549.6 514.6 550.1 512.9 550.7 512.9 551.2 512.9 551.8 512.9 552.3 513.4 552.9 513.2 553.4 513.0 554.0 510.7 554.5 509.8 555.1 509.7 555.6 510.4 556.2 511.1 556.7 509.8 557.3 510.0 557.8 508.5 558.4 510.1 558.9 509.3 559.5 509.7 560.0 510.9 560.6 507.8 561.1 507.0 561.7 507.7 562.2 507.7 562.8 505.9 563.3 507.1 563.9 506.4 564.4 505.9 565.0 503.3 565.5 503.4 566.1 504.3 566.6 501.9 567.2 503.9 567.7 501.8 568.3 502.0 568.8 498.8 569.4 497.9 569.9 495.8 570.5 495.8 571.0 495.1 571.6 493.7 572.1 492.1 572.7 490.5 573.2 488.6 573.8 488.2 574.3 487.4 574.9 485.6 575.4 485.6 576.0 483.1 576.5 483.5 577.1 478.6 577.6 478.0 578.2 475.5 578.7 476.5 579.3 475.8 579.8 476.1 580.4 470.0 580.9 471.5 581.5 466.2 582.0 468.4 582.6 467.6 583.1 467.2 583.7 462.3 584.2 459.1 584.8 459.9 585.3 457.0 585.9 455.5 586.4 456.1 587.0 455.9 587.5 449.5 588.1 450.0 588.6 446.8 589.2 447.8 589.7 445.8 590.3 441.3 590.8 441.1 591.4 438.0 591.9 438.7 592.5 435.2 593.0 435.4 593.6 427.9 594.1 426.9 594.7 422.7 595.2 425.4 595.8 418.7 596.3 416.7 596.9 409.4 597.4 409.5 598.0 409.4 598.5 400.0 599.1 401.1 599.6 400.1 600.2 399.1 600.7 391.5 601.3 392.0 601.8 386.9 602.4 381.7 602.9 372.3 603.5 372.6 604.0 367.0 604.6 364.8 605.1 363.8 605.7 361.6 606.2 348.3 606.8 358.0 607.3 341.0 607.9 347.7 608.4 336.5 609.0 335.8 609.5 336.4 610.1 334.6 610.6 327.9 611.2 307.9 611.7 301.3 612.3 296.7 612.8 302.2 613.4 297.0 613.9 293.8 614.5 287.0 615.0 276.2 615.6 276.4 616.1 262.3 616.7 273.6 617.2 242.4 617.8 258.0 618.3 272.8 618.9 252.1 619.4 225.6 620.0 244.1 620.5 230.5 621.1 218.6 621.6 215.7 622.2 205.1 622.7 213.7 623.3 203.9 623.8 189.5 624.4 219.8 624.9 197.0 625.5 226.9 626.0 204.6 626.6 185.0 627.1 168.5 627.7 161.7 628.2 149.4 628.8 164.4 629.3 171.2 629.9 154.9 630.4 152.9 631.0 171.7 631.5 149.5 632.1 142.9 632.6 157.1 633.2 164.2 633.7 149.4 634.3 138.0 634.8 146.8 635.4 138.0 635.9 144.7 636.5 146.6 637.0 178.7 637.6 143.3 638.1 136.6 638.7 144.7 639.2 146.7 639.8 114.0 640.3 163.7 640.9 130.9 641.4 150.7 642.0 125.0 642.5 171.8 643.1 132.2 643.6 139.6 644.2 151.7 644.7 134.9 645.3 149.4 645.8 177.6 646.4 150.4 646.9 179.6 647.5 157.4 648.0 170.0 648.6 171.3 649.1 181.5 649.7 174.2 650.2 169.4 650.8 197.7 651.3 182.6 651.9 178.3 652.4 199.9 653.0 230.5 653.5 232.1 654.1 212.2 654.6 218.8 655.2 231.7 655.7 232.4 656.3 228.0 656.8 245.2 657.4 242.9 657.9 257.1 658.5 258.4 659.0 253.4 659.6 263.4 660.1 263.1 660.7 263.3 661.2 281.2 661.8 288.1 662.3 291.2 662.9 291.0 663.4 297.4 664.0 299.5 664.5 302.4 665.1 301.7 665.6 318.3 666.2 321.2 666.7 324.3 667.3 336.3 667.8 330.0 668.4 344.7 668.9 339.4 669.5 336.6 670.0 351.2 670.6 355.9 671.1 358.3 671.7 358.7 672.2 360.2 672.8 367.5 673.3 371.5 673.9 376.8 674.4 381.6 675.0 383.0 675.5 382.8 676.1 389.3 676.6 396.1 677.2 397.3 677.7 400.6 678.3 407.3 678.8 408.5 679.4 409.2 679.9 412.2 680.5 422.4 681.0 420.4 681.6 424.8 682.1 424.3 682.7 428.3 683.2 423.4 683.8 432.6 684.3 433.4 684.9 433.9 685.4 437.2 686.0 440.8 686.5 441.2 687.1 444.2 687.6 448.1 688.2 451.1 688.7 451.1 689.3 452.9 689.8 454.9 690.4 453.4 690.9 457.3 691.5 460.2 692.0 463.0 692.6 461.4 693.1 463.7 693.7 465.5 694.2 464.1 694.8 468.6 695.3 471.2 695.9 471.0 696.4 471.8 697.0 475.1 697.5 474.1 698.1 476.6 698.6 478.0 699.2 478.4 699.7 479.5 700.3 484.9 700.8 483.4 701.4 485.8 701.9 487.2 702.5 488.6 703.0 490.9 703.6 491.5 704.1 493.8 704.7 494.4 705.2 494.7 705.8 496.5 706.3 497.9 706.9 498.2 707.4 497.3 708.0 499.6 708.5 502.9 709.1 503.8 709.6 504.9 710.2 503.9 710.7 504.8 711.3 506.7 711.8 507.7 712.4 507.7 712.9 506.3 713.5 506.6 714.0 507.4 714.6 509.3 715.1 510.0 715.7 510.1 716.2 511.5 716.8 511.5 717.3 510.8 717.9 510.5 718.4 511.0 719.0 512.8 719.5 512.9 720.1 512.6 720.6 513.0 721.2 513.1 721.7 514.0 722.3 515.4 722.8 514.7 723.4 514.5 723.9 514.7 724.5 514.5 725.0 515.5 725.6 516.0 726.1 517.6 726.7 516.3 727.2 516.9 727.8 514.9 728.3 516.1 728.9 517.5 729.4 518.3 730.0 517.3 730.5 517.9 731.1 518.8 731.6 517.9 732.2 518.8 732.7 519.3 733.3 518.7 733.8 517.8 734.4 518.6 734.9 518.8 735.5 519.1 736.0 519.3 736.6 518.5 737.1 519.2 737.7 519.5 738.2 519.5 738.8 519.7 739.3 519.4 739.9 520.1 740.4 520.8 741.0 520.2 741.5 520.4 742.1 520.4 742.6 520.4 743.2 520.6 743.7 520.6 744.3 520.5 744.8 521.0 745.4 519.5 745.9 519.8 746.5 519.8 747.0 519.9 747.6 521.4 748.1 521.3 748.7 520.1 749.2 520.2 749.8 521.1 750.3 521.1 750.9 521.7 751.4 521.5 752.0 521.4 752.5 521.7 753.1 521.3 753.6 521.1 754.2 521.8 754.7 521.7 755.3 521.8 755.8 521.7 756.4 521.7 756.9 521.5 757.5 518.7 758.0 519.0 758.6 520.6 759.1 520.4 759.7 521.3 760.2 521.4 760.8 519.6 761.3 519.5 761.9 521.0 762.4 521.1 763.0 520.7 763.5 520.7 764.1 521.8 764.6 521.9 765.2 522.1 765.7 522.1 766.3 522.2 766.8 522.1 767.4 522.2 767.9 522.1 768.5 521.4 769.0 521.1 769.6 520.7 770.1 520.7 770.7 521.7 771.2 521.7 771.8 522.0 772.3 522.1 772.9 522.3 773.4 522.4 774.0 520.9 774.5 520.9 775.1 522.3 775.6 522.3 776.2 521.4 776.7 521.5 777.3 521.9 777.8 521.8 778.4 520.0 778.9 520.1 779.5 521.9 780.0 521.9 780.6 522.3 781.1 522.3 781.7 521.9 782.2 522.0 782.8 521.7 783.3 521.8 783.9 522.3 784.4 522.4 785.0 522.1 785.5 521.9 786.1 522.4 786.6 522.3 787.2 522.3 787.7 522.3 788.3 520.4 788.8 520.4 789.4 522.2 789.9 522.2 790.5 521.0 791.0 521.0 791.6 522.5 792.1 522.5 792.7 519.2 793.2 519.2 793.8 520.1 794.3 520.1 794.9 521.9 795.4 522.0 796.0 521.3 796.5 521.3 797.1 521.8 797.6 521.9 798.2 521.2 798.7 521.2 799.3 522.3 799.8 522.3 800.4 522.5 800.9 522.5 801.5 522.3 802.0 522.3 802.6 521.4 803.1 521.4 803.7 522.5 804.2 522.5 804.8 521.8 805.3 521.8 805.9 518.3 806.4 518.3 807.0 519.8 807.5 519.7 808.1 519.7 808.6 519.7 809.2 520.8 809.7 520.8 810.3 520.2 810.8 520.2 811.4 522.1 811.9 522.1 812.5 521.2 813.0 521.2 813.6 519.6 814.1 519.6 814.7 521.2 815.2 521.2 815.8 517.0 816.3 517.0 816.9 519.8 817.4 519.7 818.0 522.3 818.5 522.3 819.1 522.6 819.6 522.6 820.2 522.4 820.7 522.4 821.3 522.6 821.8 522.6 822.4 522.6 822.9 522.6 823.5 521.6 824.0 521.6 824.6 519.9 825.1 519.9 825.7 519.9 826.2 519.9 826.8 521.4 827.3 521.4 827.9 519.7 828.4 519.7 829.0 520.4 829.5 520.4 830.1 521.3 830.6 521.3 831.2 520.1 831.7 520.1 832.3 520.3 832.8 520.3 833.4 522.5 833.9 522.5 834.5 521.1 835.0 521.1 835.6 522.6 836.1 522.6 836.7 520.0 837.2 520.0 837.8 521.4 838.3 521.4 838.9 522.6 839.4 522.6 840.0 519.7 840.5 519.7 841.1 522.7 841.6 522.7 842.2 522.6 842.7 522.6 843.3 519.6 843.8 519.6 844.4 522.2 844.9 522.2 845.5 522.4 846.0 522.4 846.6 521.7 847.1 521.7 847.7 522.7 848.2 522.7 848.8 522.8 849.3 522.8 849.9 522.4 850.4 522.4 851.0 520.3 851.5 520.3 852.1 520.4 852.6 520.4 853.2 520.7" stroke="#fdcb1c"/>
<path d="M92.0 522.3 92.5 522.3 93.1 523.9 93.6 523.9 94.2 523.1 94.7 523.1 95.3 522.9 95.8 522.9 96.4 523.7 96.9 523.7 97.5 522.2 98.0 522.2 98.6 523.9 99.1 523.9 99.7 522.5 100.2 522.5 100.8 523.9 101.3 523.9 101.9 523.2 102.4 523.2 103.0 523.7 103.5 523.7 104.1 523.5 104.6 523.5 105.2 524.0 105.7 524.0 106.3 523.7 106.8 523.7 107.4 522.2 107.9 522.2 108.5 524.0 109.0 524.0 109.6 524.0 110.1 524.0 110.7 522.5 111.2 522.5 111.8 523.9 112.3 523.9 112.9 523.9 113.4 523.9 114.0 522.3 114.5 522.3 115.1 524.0 115.6 524.0 116.2 523.4 116.7 523.4 117.3 523.8 117.8 523.8 118.4 523.2 118.9 523.2 119.5 522.6 120.0 522.6 120.6 523.7 121.1 523.7 121.7 523.8 122.2 523.8 122.8 522.9 123.3 522.9 123.9 522.5 124.4 522.5 125.0 523.9 125.5 523.9 126.1 522.9 126.6 522.9 127.2 522.7 127.7 522.7 128.3 523.8 128.8 523.8 129.4 522.6 129.9 522.6 130.5 523.8 131.0 523.8 131.6 523.3 132.1 523.3 132.7 523.9 133.2 523.9 133.8 522.6 134.3 522.6 134.9 523.6 135.4 523.6 136.0 523.3 136.5 523.3 137.1 522.5 137.6 522.5 138.2 521.9 138.7 521.9 139.3 523.7 139.8 523.7 140.4 524.0 140.9 524.0 141.5 523.9 142.0 523.9 142.6 523.2 143.1 523.2 143.7 523.6 144.2 523.6 144.8 521.9 145.3 521.9 145.9 523.6 146.4 523.6 147.0 524.0 147.5 524.0 148.1 523.6 148.6 523.6 149.2 523.1 149.7 523.1 150.3 522.4 150.8 522.4 151.4 523.9 151.9 523.9 152.5 523.6 153.0 523.6 153.6 522.3 154.1 522.3 154.7 523.4 155.2 523.4 155.8 521.7 156.3 521.7 156.9 523.0 157.4 523.0 158.0 523.5 158.5 523.5 159.1 523.4 159.6 523.4 160.2 523.4 160.7 523.4 161.3 523.9 161.8 523.9 162.4 524.0 162.9 524.0 163.5 523.1 164.0 523.1 164.6 523.2 165.1 523.2 165.7 524.0 166.2 524.0 166.8 523.5 167.3 523.5 167.9 522.7 168.4 522.7 169.0 524.0 169.5 524.0 170.1 522.5 170.6 522.5 171.2 524.0 171.7 524.0 172.3 523.2 172.8 523.2 173.4 523.2 173.9 523.2 174.5 524.0 175.0 524.0 175.6 523.9 176.1 523.9 176.7 522.5 177.2 522.5 177.8 522.7 178.3 522.7 178.9 521.9 179.4 521.9 180.0 523.6 180.5 523.6 181.1 524.0 181.6 524.0 182.2 524.0 182.7 524.0 183.3 523.8 183.8 523.8 184.4 524.0 184.9 524.0 185.5 523.9 186.0 523.9 186.6 522.7 187.1 522.7 187.7 522.8 188.2 522.8 188.8 522.4 189.3 522.4 189.9 523.9 190.4 523.9 191.0 523.1 191.5 523.1 192.1 522.3 192.6 522.3 193.2 522.8 193.7 522.8 194.3 523.3 194.8 523.3 195.4 524.0 195.9 524.0 196.5 523.7 197.0 523.7 197.6 522.8 198.1 522.8 198.7 522.8 199.2 522.8 199.8 522.8 200.3 522.8 200.9 523.8 201.4 523.8 202.0 523.8 202.5 523.8 203.1 523.3 203.6 523.3 204.2 522.6 204.7 522.6 205.3 523.6 205.8 523.6 206.4 524.0 206.9 524.0 207.5 523.9 208.0 523.9 208.6 523.5 209.1 523.5 209.7 524.0 210.2 524.0 210.8 523.9 211.3 523.9 211.9 522.9 212.4 522.9 213.0 523.7 213.5 523.7 214.1 524.0 214.6 524.0 215.2 524.0 215.7 524.0 216.3 523.4 216.8 523.4 217.4 522.6 217.9 522.6 218.5 523.7 219.0 523.7 219.6 523.9 220.1 523.9 220.7 524.0 221.2 524.0 221.8 523.1 222.3 523.1 222.9 523.3 223.4 523.3 224.0 523.0 224.5 523.0 225.1 523.4 225.6 523.4 226.2 523.8 226.7 523.8 227.3 523.5 227.8 523.5 228.4 524.0 228.9 524.0 229.5 522.8 230.0 522.8 230.6 521.3 231.1 521.3 231.7 522.9 232.2 522.9 232.8 522.6 233.3 522.6 233.9 522.9 234.4 522.9 235.0 523.7 235.5 523.7 236.1 523.3 236.6 523.3 237.2 524.0 237.7 524.0 238.3 522.7 238.8 522.6 239.4 523.8 239.9 523.8 240.5 523.9 241.0 523.9 241.6 523.2 242.1 523.2 242.7 523.9 243.2 524.0 243.8 523.2 244.3 523.1 244.9 523.9 245.4 524.0 246.0 524.0 246.5 524.0 247.1 523.9 247.6 523.9 248.2 524.0 248.7 524.0 249.3 522.3 249.8 522.3 250.4 524.0 250.9 524.0 251.5 523.9 252.0 523.9 252.6 524.0 253.1 524.0 253.7 522.6 254.2 522.6 254.8 523.9 255.3 524.0 255.9 523.7 256.4 523.7 257.0 523.6 257.5 523.6 258.1 523.9 258.6 523.9 259.2 523.4 259.7 523.5 260.3 522.6 260.8 522.6 261.4 523.9 261.9 523.9 262.5 523.6 263.0 523.6 263.6 522.9 264.1 522.9 264.7 524.0 265.2 524.0 265.8 522.3 266.3 522.2 266.9 523.8 267.4 523.8 268.0 523.6 268.5 523.5 269.1 523.5 269.6 523.5 270.2 523.5 270.7 523.5 271.3 523.0 271.8 522.9 272.4 522.7 272.9 522.8 273.5 522.6 274.0 522.6 274.6 523.7 275.1 523.8 275.7 523.8 276.2 524.0 276.8 523.8 277.3 523.7 277.9 523.7 278.4 523.6 279.0 523.8 279.5 523.9 280.1 523.8 280.6 523.8 281.2 523.9 281.7 523.8 282.3 523.9 282.8 523.9 283.4 523.5 283.9 523.3 284.5 522.5 285.0 522.4 285.6 523.7 286.1 523.7 286.7 522.7 287.2 522.6 287.8 523.5 288.3 523.4 288.9 523.9 289.4 523.8 290.0 522.1 290.5 522.2 291.1 523.4 291.6 523.5 292.2 522.9 292.7 522.8 293.3 523.7 293.8 523.8 294.4 522.3 294.9 522.4 295.5 523.5 296.0 523.5 296.6 523.4 297.1 523.3 297.7 523.3 298.2 523.4 298.8 522.5 299.3 522.5 299.9 521.0 300.4 521.0 301.0 520.8 301.5 521.0 302.1 523.4 302.6 523.3 303.2 522.9 303.7 523.0 304.3 522.4 304.8 522.2 305.4 521.4 305.9 521.4 306.5 522.8 307.0 523.2 307.6 522.7 308.1 522.9 308.7 522.7 309.2 522.9 309.8 522.3 310.3 522.0 310.9 521.1 311.4 521.1 312.0 521.7 312.5 522.1 313.1 521.0 313.6 521.0 314.2 521.7 314.7 521.7 315.3 521.3 315.8 521.8 316.4 521.1 316.9 520.9 317.5 522.0 318.0 522.7 318.6 522.2 319.1 521.7 319.7 520.1 320.2 520.1 320.8 520.6 321.3 520.1 321.9 520.9 322.4 521.0 323.0 520.3 323.5 520.1 324.1 520.1 324.6 520.7 325.2 519.8 325.7 518.9 326.3 519.7 326.8 519.4 327.4 519.2 327.9 519.1 328.5 519.7 329.0 519.8 329.6 519.2 330.1 519.1 330.7 519.6 331.2 518.5 331.8 518.4 332.3 517.3 332.9 517.2 333.4 517.0 334.0 517.4 334.5 517.4 335.1 517.4 335.6 516.8 336.2 515.8 336.7 515.0 337.3 516.0 337.8 514.8 338.4 514.8 338.9 516.2 339.5 515.2 340.0 514.5 340.6 514.3 341.1 513.3 341.7 513.1 342.2 512.3 342.8 513.2 343.3 511.7 343.9 512.5 344.4 512.4 345.0 511.5 345.5 510.1 346.1 509.5 346.6 509.7 347.2 509.9 347.7 508.5 348.3 508.8 348.8 508.1 349.4 508.0 349.9 507.1 350.5 505.9 351.0 505.9 351.6 505.0 352.1 503.4 352.7 503.6 353.2 502.6 353.8 501.6 354.3 501.3 354.9 499.1 355.4 496.5 356.0 498.7 356.5 497.3 357.1 495.2 357.6 493.8 358.2 491.1 358.7 492.0 359.3 493.3 359.8 489.4 360.4 486.0 360.9 487.3 361.5 484.3 362.0 481.9 362.6 480.8 363.1 482.2 363.7 479.7 364.2 476.0 364.8 475.3 365.3 473.2 365.9 474.6 366.4 471.9 367.0 472.9 367.5 466.1 368.1 468.1 368.6 467.9 369.2 463.1 369.7 460.6 370.3 462.1 370.8 456.2 371.4 454.3 371.9 449.7 372.5 448.8 373.0 451.6 373.6 444.8 374.1 440.3 374.7 441.4 375.2 438.3 375.8 436.1 376.3 435.4 376.9 431.2 377.4 428.9 378.0 429.6 378.5 421.7 379.1 424.4 379.6 420.6 380.2 415.6 380.7 410.7 381.3 409.1 381.8 403.7 382.4 406.4 382.9 407.8 383.5 399.0 384.0 389.0 384.6 394.6 385.1 387.7 385.7 391.0 386.2 375.4 386.8 375.5 387.3 368.6 387.9 371.1 388.4 371.0 389.0 368.9 389.5 358.2 390.1 352.9 390.6 342.4 391.2 336.8 391.7 338.6 392.3 335.6 392.8 330.9 393.4 317.0 393.9 313.7 394.5 302.5 395.0 311.5 395.6 305.0 396.1 309.9 396.7 284.2 397.2 293.0 397.8 277.6 398.3 263.1 398.9 279.2 399.4 269.5 400.0 247.6 400.5 233.3 401.1 230.5 401.6 238.5 402.2 220.2 402.7 214.3 403.3 203.0 403.8 223.6 404.4 203.1 404.9 211.0 405.5 177.3 406.0 181.0 406.6 197.9 407.1 181.5 407.7 176.9 408.2 177.8 408.8 179.3 409.3 164.3 409.9 164.0 410.4 150.3 411.0 141.8 411.5 173.2 412.1 173.5 412.6 148.9 413.2 218.2 413.7 159.6 414.3 156.7 414.8 156.3 415.4 168.1 415.9 179.2 416.5 147.1 417.0 126.4 417.6 163.4 418.1 171.3 418.7 146.9 419.2 133.2 419.8 154.6 420.3 162.9 420.9 152.0 421.4 150.7 422.0 114.0 422.5 162.4 423.1 151.7 423.6 154.9 424.2 155.7 424.7 157.2 425.3 201.8 425.8 165.3 426.4 133.7 426.9 144.3 427.5 173.4 428.0 150.3 428.6 168.6 429.1 142.1 429.7 168.4 430.2 218.9 430.8 216.5 431.3 188.0 431.9 191.8 432.4 173.2 433.0 234.7 433.5 236.4 434.1 226.8 434.6 206.4 435.2 219.4 435.7 216.1 436.3 243.1 436.8 251.3 437.4 240.2 437.9 235.5 438.5 252.4 439.0 240.7 439.6 244.5 440.1 261.5 440.7 284.2 441.2 277.3 441.8 267.2 442.3 281.1 442.9 273.0 443.4 286.2 444.0 297.4 444.5 312.4 445.1 315.7 445.6 305.5 446.2 318.5 446.7 310.5 447.3 316.6 447.8 325.6 448.4 332.4 448.9 332.1 449.5 335.8 450.0 348.6 450.6 347.0 451.1 349.8 451.7 359.7 452.2 369.1 452.8 373.7 453.3 375.1 453.9 379.3 454.4 386.2 455.0 386.6 455.5 394.9 456.1 397.2 456.6 400.8 457.2 404.0 457.7 403.1 458.3 409.7 458.8 411.1 459.4 428.4 459.9 416.6 460.5 423.8 461.0 425.4 461.6 431.5 462.1 434.1 462.7 432.3 463.2 436.2 463.8 438.2 464.3 438.1 464.9 442.3 465.4 445.1 466.0 450.2 466.5 453.8 467.1 450.3 467.6 455.0 468.2 453.8 468.7 462.8 469.3 457.5 469.8 463.1 470.4 463.9 470.9 470.7 471.5 466.6 472.0 467.1 472.6 470.9 473.1 474.2 473.7 472.9 474.2 475.4 474.8 474.1 475.3 477.6 475.9 479.8 476.4 478.4 477.0 481.1 477.5 481.8 478.1 486.0 478.6 484.1 479.2 488.3 479.7 488.0 480.3 490.7 480.8 490.0 481.4 490.9 481.9 492.5 482.5 495.2 483.0 495.4 483.6 494.4 484.1 496.5 484.7 496.9 485.2 497.9 485.8 499.0 486.3 500.5 486.9 501.4 487.4 501.1 488.0 501.4 488.5 501.6 489.1 502.4 489.6 504.3 490.2 504.6 490.7 505.6 491.3 506.9 491.8 506.5 492.4 506.3 492.9 507.5 493.5 506.4 494.0 510.6 494.6 509.6 495.1 509.9 495.7 511.4 496.2 511.5 496.8 511.1 497.3 511.1 497.9 510.9 498.4 512.2 499.0 513.1 499.5 513.3 500.1 513.0 500.6 514.3 501.2 513.3 501.7 515.0 502.3 514.8 502.8 516.3 503.4 515.5 503.9 514.6 504.5 515.9 505.0 516.3 505.6 516.4 506.1 516.4 506.7 516.6 507.2 516.5 507.8 517.3 508.3 517.7 508.9 518.2 509.4 518.2 510.0 518.5 510.5 518.0 511.1 517.4 511.6 519.0 512.2 519.7 512.7 519.7 513.3 519.7 513.8 520.5 514.4 520.0 514.9 519.4 515.5 518.9 516.0 519.4 516.6 520.6 517.1 520.6 517.7 519.4 518.2 520.0 518.8 520.8 519.3 520.9 519.9 521.2 520.4 521.6 521.0 521.9 521.5 522.2 522.1 521.0 522.6 520.4 523.2 521.5 523.7 521.8 524.3 522.3 524.8 522.4 525.4 522.7 525.9 522.8 526.5 522.4 527.0 522.7 527.6 522.3 528.1 522.8 528.7 522.2 529.2 522.5 529.8 522.5 530.3 522.3 530.9 522.5 531.4 522.3 532.0 522.6 532.5 523.0 533.1 521.7 533.6 521.7 534.2 521.7 534.7 521.7 535.3 520.4 535.8 520.2 536.4 522.6 536.9 523.1 537.5 521.5 538.0 521.6 538.6 521.4 539.1 521.2 539.7 523.2 540.2 523.4 540.8 522.4 541.3 522.6 541.9 523.3 542.4 523.6 543.0 522.3 543.5 522.3 544.1 523.1 544.6 523.2 545.2 523.2 545.7 523.4 546.3 523.3 546.8 523.0 547.4 522.1 547.9 522.1 548.5 522.4 549.0 522.4 549.6 522.3 550.1 522.3 550.7 523.7 551.2 523.6 551.8 523.6 552.3 523.6 552.9 523.2 553.4 523.0 554.0 523.3 554.5 523.2 555.1 523.4 555.6 523.4 556.2 523.4 556.7 523.3 557.3 523.1 557.8 523.2 558.4 522.3 558.9 522.2 559.5 523.8 560.0 523.9 560.6 523.3 561.1 523.3 561.7 522.8 562.2 522.7 562.8 524.0 563.3 523.9 563.9 523.7 564.4 523.7 565.0 522.9 565.5 522.9 566.1 523.6 566.6 523.6 567.2 523.5 567.7 523.5 568.3 522.3 568.8 522.3 569.4 523.3 569.9 523.3 570.5 523.3 571.0 523.3 571.6 523.8 572.1 523.7 572.7 523.7 573.2 523.7 573.8 523.2 574.3 523.3 574.9 523.9 575.4 524.0 576.0 523.0 576.5 523.1 577.1 522.6 577.6 522.6 578.2 524.0 578.7 524.0 579.3 523.9 579.8 523.9 580.4 523.8 580.9 523.8 581.5 523.8 582.0 523.9 582.6 522.8 583.1 522.8 583.7 523.9 584.2 523.9 584.8 523.0 585.3 523.0 585.9 523.9 586.4 523.9 587.0 524.0 587.5 524.0 588.1 523.7 588.6 523.7 589.2 524.0 589.7 524.0 590.3 523.7 590.8 523.7 591.4 522.9 591.9 522.9 592.5 522.7 593.0 522.7 593.6 524.0 594.1 524.0 594.7 522.3 595.2 522.3 595.8 523.9 596.3 524.0 596.9 523.0 597.4 523.0 598.0 522.9 598.5 522.9 599.1 524.0 599.6 524.0 600.2 523.9 600.7 524.0 601.3 523.8 601.8 523.8 602.4 523.8 602.9 523.8 603.5 522.9 604.0 522.9 604.6 523.6 605.1 523.6 605.7 523.1 606.2 523.1 606.8 524.0 607.3 524.0 607.9 523.7 608.4 523.7 609.0 523.6 609.5 523.6 610.1 523.8 610.6 523.8 611.2 522.9 611.7 522.9 612.3 523.8 612.8 523.9 613.4 523.7 613.9 523.7 614.5 523.1 615.0 523.1 615.6 522.7 616.1 522.7 616.7 522.0 617.2 522.0 617.8 523.9 618.3 523.9 618.9 523.9 619.4 523.9 620.0 524.0 620.5 524.0 621.1 522.6 621.6 522.6 622.2 523.8 622.7 523.8 623.3 523.5 623.8 523.5 624.4 522.6 624.9 522.6 625.5 523.8 626.0 523.8 626.6 522.5 627.1 522.5 627.7 522.8 628.2 522.8 628.8 522.8 629.3 522.8 629.9 523.7 630.4 523.7 631.0 522.5 631.5 522.5 632.1 523.6 632.6 523.6 633.2 524.0 633.7 524.0 634.3 524.0 634.8 524.0 635.4 522.8 635.9 522.8 636.5 523.5 637.0 523.5 637.6 523.8 638.1 523.8 638.7 523.7 639.2 523.7 639.8 522.6 640.3 522.6 640.9 524.0 641.4 524.0 642.0 523.3 642.5 523.3 643.1 524.0 643.6 524.0 644.2 522.5 644.7 522.5 645.3 523.9 645.8 523.9 646.4 522.4 646.9 522.4 647.5 524.0 648.0 524.0 648.6 523.9 649.1 523.9 649.7 523.8 650.2 523.8 650.8 523.9 651.3 523.9 651.9 523.0 652.4 523.0 653.0 523.3 653.5 523.3 654.1 523.9 654.6 523.9 655.2 523.9 655.7 523.9 656.3 523.3 656.8 523.3 657.4 524.0 657.9 524.0 658.5 523.4 659.0 523.4 659.6 524.0 660.1 524.0 660.7 522.7 661.2 522.7 661.8 522.9 662.3 522.9 662.9 523.5 663.4 523.5 664.0 523.9 664.5 523.9 665.1 523.6 665.6 523.6 666.2 523.8 666.7 523.8 667.3 523.8 667.8 523.8 668.4 522.8 668.9 522.8 669.5 524.0 670.0 524.0 670.6 523.1 671.1 523.1 671.7 523.1 672.2 523.1 672.8 522.5 673.3 522.5 673.9 523.6 674.4 523.6 675.0 524.0 675.5 524.0 676.1 523.1 676.6 523.1 677.2 523.6 677.7 523.6 678.3 523.9 678.8 523.9 679.4 523.6 679.9 523.6 680.5 524.0 681.0 524.0 681.6 522.9 682.1 522.9 682.7 523.7 683.2 523.7 683.8 523.2 684.3 523.2 684.9 524.0 685.4 524.0 686.0 522.7 686.5 522.7 687.1 523.5 687.6 523.5 688.2 522.3 688.7 522.3 689.3 523.7 689.8 523.7 690.4 523.5 690.9 523.5 691.5 523.3 692.0 523.3 692.6 523.0 693.1 523.0 693.7 522.8 694.2 522.8 694.8 523.5 695.3 523.5 695.9 523.5 696.4 523.5 697.0 522.6 697.5 522.6 698.1 524.0 698.6 524.0 699.2 523.7 699.7 523.7 700.3 523.9 700.8 523.9 701.4 524.0 701.9 524.0 702.5 523.9 703.0 523.9 703.6 523.5 704.1 523.5 704.7 523.9 705.2 523.9 705.8 522.8 706.3 522.8 706.9 523.9 707.4 523.9 708.0 523.0 708.5 523.0 709.1 524.0 709.6 524.0 710.2 523.7 710.7 523.7 711.3 524.0 711.8 524.0 712.4 522.5 712.9 522.5 713.5 524.0 714.0 524.0 714.6 523.7 715.1 523.7 715.7 523.9 716.2 523.9 716.8 523.0 717.3 523.0 717.9 524.0 718.4 524.0 719.0 522.5 719.5 522.5 720.1 523.9 720.6 523.9 721.2 523.9 721.7 523.9 722.3 523.8 722.8 523.8 723.4 524.0 723.9 524.0 724.5 523.5 725.0 523.5 725.6 523.4 726.1 523.4 726.7 522.9 727.2 522.9 727.8 523.9 728.3 523.9 728.9 522.5 729.4 522.5 730.0 522.5 730.5 522.5 731.1 522.0 731.6 522.0 732.2 523.7 732.7 523.7 733.3 523.9 733.8 523.9 734.4 523.6 734.9 523.6 735.5 522.7 736.0 522.7 736.6 522.4 737.1 522.4 737.7 522.5 738.2 522.5 738.8 523.9 739.3 523.9 739.9 523.6 740.4 523.6 741.0 524.0 741.5 524.0 742.1 522.5 742.6 522.5 743.2 523.8 743.7 523.8 744.3 523.9 744.8 523.9 745.4 524.0 745.9 524.0 746.5 522.5 747.0 522.5 747.6 523.2 748.1 523.2 748.7 522.7 749.2 522.7 749.8 523.9 750.3 523.9 750.9 524.0 751.4 524.0 752.0 522.6 752.5 522.6 753.1 524.0 753.6 524.0 754.2 523.8 754.7 523.8 755.3 523.6 755.8 523.6 756.4 523.2 756.9 523.2 757.5 523.8 758.0 523.8 758.6 523.4 759.1 523.4 759.7 524.0 760.2 524.0 760.8 523.8 761.3 523.8 761.9 523.9 762.4 523.9 763.0 523.4 763.5 523.4 764.1 523.9 764.6 523.9 765.2 523.2 765.7 523.2 766.3 523.4 766.8 523.4 767.4 523.9 767.9 523.9 768.5 522.4 769.0 522.4 769.6 523.6 770.1 523.6 770.7 523.9 771.2 523.9 771.8 522.5 772.3 522.5 772.9 523.9 773.4 523.9 774.0 523.1 774.5 523.1 775.1 523.0 775.6 523.0 776.2 523.4 776.7 523.4 777.3 522.3 777.8 522.3 778.4 522.4 778.9 522.4 779.5 523.7 780.0 523.7 780.6 524.0 781.1 524.0 781.7 522.5 782.2 522.5 782.8 524.0 783.3 524.0 783.9 522.8 784.4 522.8 785.0 523.5 785.5 523.5 786.1 524.0 786.6 524.0 787.2 522.9 787.7 522.9 788.3 523.7 788.8 523.7 789.4 523.8 789.9 523.8 790.5 523.4 791.0 523.4 791.6 523.6 792.1 523.6 792.7 522.9 793.2 522.9 793.8 522.9 794.3 522.9 794.9 523.9 795.4 523.9 796.0 523.9 796.5 523.9 797.1 522.8 797.6 522.8 798.2 522.2 798.7 522.2 799.3 524.0 799.8 524.0 800.4 523.2 800.9 523.2 801.5 524.0 802.0 524.0 802.6 523.2 803.1 523.2 803.7 523.1 804.2 523.1 804.8 522.6 805.3 522.6 805.9 522.9 806.4 522.9 807.0 523.7 807.5 523.7 808.1 523.5 808.6 523.5 809.2 522.5 809.7 522.5 810.3 523.9 810.8 523.9 811.4 523.0 811.9 523.0 812.5 523.7 813.0 523.7 813.6 523.4 814.1 523.4 814.7 524.0 815.2 524.0 815.8 522.6 816.3 522.6 816.9 523.1 817.4 523.1 818.0 522.4 818.5 522.4 819.1 524.0 819.6 524.0 820.2 523.7 820.7 523.7 821.3 522.3 821.8 522.3 822.4 523.8 822.9 523.8 823.5 523.1 824.0 523.1 824.6 523.5 825.1 523.5 825.7 524.0 826.2 524.0 826.8 523.6 827.3 523.6 827.9 522.6 828.4 522.6 829.0 523.5 829.5 523.5 830.1 522.6 830.6 522.6 831.2 524.0 831.7 524.0 832.3 523.7 832.8 523.7 833.4 523.7 833.9 523.7 834.5 524.0 835.0 524.0 835.6 523.1 836.1 523.1 836.7 524.0 837.2 524.0 837.8 524.0 838.3 524.0 838.9 523.9 839.4 523.9 840.0 523.7 840.5 523.7 841.1 523.3 841.6 523.3 842.2 523.1 842.7 523.1 843.3 523.9 843.8 523.9 844.4 523.7 844.9 523.7 845.5 523.4 846.0 523.4 846.6 523.1 847.1 523.1 847.7 522.4 848.2 522.4 848.8 522.8 849.3 522.8 849.9 522.6 850.4 522.6 851.0 523.2 851.5 523.2 852.1 523.3 852.6 523.3 853.2 522.3" stroke="#ec6616"/>
<path d="M92.0 519.3 92.5 518.9 93.1 516.9 93.6 516.8 94.2 522.0 94.7 518.4 95.3 517.8 95.8 519.5 96.4 520.4 96.9 518.3 97.5 518.9 98.0 517.5 98.6 518.6 99.1 520.8 99.7 516.8 100.2 522.0 100.8 522.3 101.3 519.4 101.9 521.7 102.4 523.3 103.0 519.9 103.5 523.7 104.1 521.4 104.6 518.8 105.2 519.3 105.7 517.6 106.3 522.0 106.8 520.8 107.4 519.1 107.9 518.7 108.5 519.3 109.0 522.6 109.6 521.5 110.1 519.4 110.7 521.8 111.2 523.3 111.8 520.3 112.3 516.7 112.9 519.6 113.4 523.2 114.0 519.4 114.5 521.3 115.1 522.5 115.6 519.1 116.2 517.3 116.7 522.6 117.3 521.5 117.8 521.5 118.4 521.7 118.9 520.7 119.5 517.7 120.0 517.4 120.6 516.5 121.1 522.6 121.7 517.0 122.2 517.7 122.8 516.8 123.3 521.7 123.9 517.3 124.4 521.7 125.0 522.6 125.5 516.8 126.1 519.8 126.6 520.1 127.2 522.5 127.7 521.3 128.3 520.8 128.8 518.9 129.4 517.3 129.9 523.4 130.5 517.6 131.0 519.2 131.6 516.5 132.1 521.5 132.7 516.6 133.2 516.7 133.8 520.9 134.3 523.0 134.9 522.1 135.4 523.6 136.0 520.8 136.5 517.7 137.1 520.7 137.6 517.5 138.2 522.0 138.7 519.6 139.3 522.8 139.8 521.3 140.4 522.8 140.9 519.4 141.5 520.9 142.0 522.0 142.6 517.6 143.1 523.9 143.7 519.4 144.2 520.4 144.8 520.8 145.3 517.7 145.9 522.8 146.4 518.7 147.0 519.6 147.5 517.3 148.1 518.3 148.6 518.4 149.2 522.5 149.7 519.9 150.3 517.9 150.8 522.1 151.4 516.9 151.9 522.8 152.5 519.9 153.0 521.6 153.6 519.2 154.1 522.7 154.7 523.4 155.2 522.6 155.8 517.5 156.3 521.4 156.9 518.9 157.4 518.5 158.0 522.9 158.5 519.0 159.1 517.3 159.6 522.4 160.2 517.8 160.7 522.8 161.3 517.3 161.8 517.4 162.4 522.2 162.9 518.3 163.5 520.6 164.0 520.1 164.6 518.2 165.1 517.8 165.7 523.0 166.2 518.9 166.8 517.6 167.3 518.3 167.9 521.6 168.4 522.2 169.0 523.7 169.5 519.8 170.1 518.2 170.6 520.5 171.2 523.6 171.7 521.0 172.3 520.2 172.8 518.1 173.4 517.1 173.9 520.1 174.5 518.3 175.0 522.8 175.6 521.7 176.1 522.2 176.7 519.4 177.2 517.1 177.8 523.7 178.3 522.8 178.9 518.7 179.4 519.0 180.0 516.9 180.5 517.4 181.1 521.8 181.6 518.9 182.2 519.4 182.7 521.3 183.3 519.7 183.8 522.3 184.4 517.2 184.9 517.5 185.5 517.9 186.0 520.4 186.6 519.3 187.1 519.8 187.7 518.3 188.2 517.3 188.8 522.7 189.3 518.9 189.9 518.4 190.4 519.7 191.0 517.5 191.5 516.7 192.1 518.1 192.6 521.2 193.2 518.6 193.7 518.6 194.3 522.6 194.8 516.7 195.4 520.0 195.9 520.6 196.5 523.3 197.0 517.4 197.6 521.0 198.1 521.9 198.7 519.2 199.2 520.2 199.8 517.0 200.3 523.4 200.9 524.0 201.4 521.9 202.0 521.6 202.5 523.7 203.1 517.1 203.6 523.7 204.2 521.1 204.7 516.9 205.3 519.9 205.8 521.2 206.4 519.4 206.9 520.8 207.5 522.4 208.0 523.0 208.6 521.4 209.1 520.6 209.7 518.9 210.2 519.4 210.8 523.9 211.3 522.0 211.9 521.1 212.4 523.2 213.0 520.5 213.5 520.0 214.1 517.1 214.6 523.9 215.2 518.9 215.7 522.3 216.3 519.1 216.8 516.9 217.4 522.2 217.9 518.0 218.5 518.9 219.0 518.8 219.6 522.3 220.1 517.5 220.7 521.1 221.2 517.2 221.8 518.6 222.3 520.9 222.9 523.9 223.4 520.6 224.0 516.9 224.5 519.8 225.1 522.6 225.6 522.7 226.2 521.2 226.7 520.0 227.3 517.3 227.8 518.6 228.4 519.9 228.9 523.4 229.5 519.3 230.0 520.7 230.6 520.6 231.1 517.9 231.7 520.5 232.2 523.7 232.8 521.9 233.3 521.7 233.9 519.4 234.4 516.9 235.0 519.9 235.5 518.4 236.1 522.8 236.6 519.0 237.2 521.9 237.7 520.1 238.3 522.6 238.8 522.0 239.4 522.1 239.9 523.6 240.5 521.2 241.0 522.5 241.6 520.5 242.1 522.5 242.7 521.3 243.2 518.6 243.8 517.0 244.3 519.1 244.9 521.7 245.4 517.4 246.0 521.7 246.5 523.2 247.1 517.1 247.6 521.0 248.2 522.3 248.7 519.3 249.3 521.8 249.8 522.4 250.4 517.7 250.9 523.4 251.5 521.9 252.0 517.7 252.6 522.6 253.1 521.5 253.7 518.5 254.2 523.9 254.8 518.5 255.3 518.5 255.9 523.9 256.4 519.0 257.0 519.5 257.5 519.3 258.1 523.9 258.6 523.8 259.2 522.0 259.7 518.3 260.3 521.6 260.8 523.4 261.4 520.2 261.9 521.5 262.5 522.8 263.0 517.6 263.6 519.9 264.1 519.7 264.7 523.8 265.2 521.0 265.8 519.9 266.3 523.6 266.9 520.7 267.4 518.2 268.0 517.3 268.5 518.1 269.1 519.3 269.6 523.8 270.2 519.7 270.7 519.3 271.3 517.5 271.8 520.5 272.4 517.2 272.9 520.2 273.5 519.7 274.0 519.6 274.6 523.8 275.1 522.0 275.7 520.0 276.2 518.6 276.8 520.2 277.3 523.3 277.9 519.2 278.4 524.0 279.0 518.8 279.5 521.6 280.1 521.6 280.6 523.9 281.2 522.3 281.7 520.6 282.3 522.6 282.8 522.5 283.4 520.4 283.9 521.8 284.5 523.4 285.0 520.0 285.6 522.0 286.1 517.6 286.7 521.0 287.2 520.2 287.8 522.2 288.3 520.6 288.9 522.2 289.4 523.1 290.0 523.5 290.5 518.7 291.1 521.6 291.6 520.6 292.2 518.3 292.7 523.9 293.3 519.5 293.8 523.3 294.4 523.1 294.9 522.4 295.5 519.9 296.0 519.3 296.6 518.7 297.1 519.4 297.7 522.7 298.2 517.3 298.8 523.8 299.3 523.1 299.9 517.9 300.4 521.9 301.0 520.7 301.5 517.9 302.1 518.6 302.6 521.0 303.2 523.6 303.7 523.4 304.3 519.3 304.8 518.3 305.4 518.2 305.9 517.4 306.5 522.4 307.0 523.0 307.6 518.5 308.1 517.5 308.7 518.7 309.2 519.0 309.8 518.4 310.3 518.5 310.9 522.4 311.4 523.7 312.0 520.0 312.5 519.5 313.1 518.7 313.6 522.9 314.2 522.0 314.7 523.5 315.3 523.2 315.8 522.9 316.4 518.3 316.9 524.0 317.5 523.1 318.0 518.2 318.6 521.2 319.1 517.5 319.7 517.6 320.2 521.2 320.8 520.3 321.3 521.2 321.9 523.2 322.4 519.7 323.0 519.2 323.5 517.5 324.1 520.6 324.6 520.2 325.2 520.2 325.7 522.6 326.3 523.7 326.8 521.3 327.4 520.5 327.9 519.4 328.5 521.2 329.0 522.8 329.6 522.6 330.1 522.9 330.7 521.7 331.2 522.5 331.8 517.9 332.3 517.6 332.9 519.1 333.4 522.3 334.0 521.3 334.5 519.6 335.1 519.1 335.6 519.9 336.2 517.7 336.7 522.1 337.3 523.9 337.8 519.7 338.4 521.6 338.9 520.8 339.5 519.3 340.0 522.0 340.6 521.5 341.1 521.4 341.7 519.9 342.2 520.0 342.8 518.6 343.3 520.8 343.9 520.6 344.4 520.6 345.0 519.8 345.5 518.9 346.1 521.7 346.6 517.8 347.2 523.0 347.7 524.0 348.3 520.6 348.8 519.3 349.4 519.3 349.9 523.9 350.5 522.7 351.0 521.1 351.6 522.6 352.1 522.1 352.7 523.5 353.2 520.9 353.8 520.5 354.3 523.8 354.9 521.4 355.4 519.6 356.0 522.8 356.5 517.8 357.1 522.4 357.6 522.6 358.2 518.0 358.7 522.7 359.3 518.1 359.8 521.1 360.4 519.9 360.9 519.1 361.5 518.6 362.0 521.7 362.6 523.1 363.1 523.0 363.7 519.0 364.2 523.3 364.8 520.8 365.3 519.3 365.9 519.9 366.4 521.5 367.0 520.8 367.5 519.8 368.1 520.7 368.6 523.9 369.2 519.1 369.7 520.4 370.3 523.0 370.8 519.5 371.4 521.8 371.9 522.3 372.5 518.9 373.0 520.8 373.6 519.9 374.1 522.7 374.7 519.5 375.2 520.5 375.8 522.3 376.3 521.3 376.9 518.9 377.4 519.9 378.0 519.6 378.5 522.0 379.1 519.2 379.6 521.4 380.2 523.2 380.7 521.8 381.3 518.5 381.8 520.6 382.4 522.3 382.9 521.7 383.5 517.9 384.0 523.5 384.6 518.7 385.1 518.2 385.7 521.2 386.2 523.0 386.8 520.3 387.3 519.0 387.9 523.0 388.4 523.6 389.0 521.4 389.5 522.8 390.1 520.7 390.6 521.6 391.2 522.0 391.7 519.1 392.3 517.8 392.8 520.5 393.4 518.8 393.9 521.2 394.5 522.6 395.0 518.8 395.6 519.1 396.1 518.5 396.7 519.9 397.2 520.2 397.8 518.1 398.3 522.0 398.9 519.8 399.4 518.3 400.0 518.0 400.5 520.1 401.1 519.8 401.6 523.5 402.2 523.3 402.7 518.7 403.3 522.7 403.8 520.4 404.4 520.1 404.9 523.1 405.5 519.5 406.0 520.4 406.6 520.6 407.1 517.6 407.7 519.7 408.2 519.3 408.8 521.7 409.3 518.9 409.9 521.3 410.4 518.2 411.0 518.8 411.5 519.3 412.1 521.0 412.6 521.3 413.2 520.5 413.7 520.1 414.3 522.1 414.8 519.6 415.4 522.6 415.9 517.2 416.5 521.8 417.0 519.2 417.6 518.9 418.1 521.4 418.7 523.0 419.2 518.4 419.8 520.9 420.3 517.3 420.9 517.3 421.4 516.9 422.0 518.8 422.5 521.9 423.1 518.8 423.6 518.2 424.2 518.7 424.7 519.6 425.3 517.4 425.8 519.0 426.4 518.9 426.9 516.8 427.5 521.3 428.0 518.4 428.6 518.0 429.1 518.0 429.7 521.3 430.2 518.6 430.8 517.7 431.3 519.0 431.9 516.5 432.4 516.2 433.0 519.5 433.5 516.1 434.1 518.1 434.6 520.1 435.2 515.2 435.7 516.5 436.3 518.9 436.8 517.9 437.4 515.5 437.9 514.9 438.5 518.3 439.0 518.6 439.6 516.6 440.1 515.8 440.7 516.4 441.2 514.1 441.8 516.2 442.3 516.3 442.9 511.5 443.4 514.6 444.0 515.3 444.5 513.5 445.1 513.3 445.6 512.8 446.2 512.7 446.7 513.1 447.3 511.6 447.8 511.8 448.4 514.2 448.9 511.5 449.5 510.9 450.0 510.3 450.6 510.1 451.1 510.2 451.7 510.2 452.2 511.2 452.8 507.5 453.3 508.5 453.9 508.3 454.4 509.1 455.0 507.2 455.5 509.4 456.1 506.4 456.6 504.9 457.2 505.9 457.7 505.0 458.3 504.4 458.8 505.8 459.4 503.8 459.9 501.7 460.5 501.8 461.0 502.8 461.6 498.7 462.1 500.9 462.7 499.0 463.2 497.2 463.8 494.7 464.3 494.3 464.9 493.8 465.4 493.9 466.0 490.8 466.5 489.2 467.1 486.8 467.6 487.1 468.2 487.7 468.7 484.6 469.3 483.6 469.8 482.1 470.4 480.3 470.9 479.0 471.5 477.5 472.0 471.6 472.6 470.5 473.1 470.7 473.7 468.4 474.2 468.3 474.8 468.0 475.3 464.5 475.9 464.4 476.4 461.5 477.0 458.3 477.5 458.5 478.1 453.4 478.6 454.9 479.2 454.2 479.7 449.3 480.3 448.8 480.8 445.4 481.4 440.6 481.9 442.9 482.5 439.5 483.0 438.4 483.6 433.6 484.1 434.3 484.7 430.7 485.2 426.1 485.8 427.7 486.3 424.8 486.9 427.2 487.4 419.9 488.0 417.0 488.5 416.0 489.1 411.2 489.6 412.4 490.2 403.0 490.7 402.9 491.3 398.5 491.8 393.6 492.4 387.1 492.9 391.4 493.5 382.2 494.0 384.7 494.6 380.2 495.1 377.4 495.7 372.3 496.2 362.9 496.8 359.9 497.3 359.5 497.9 353.5 498.4 353.7 499.0 345.7 499.5 343.3 500.1 339.5 500.6 330.9 501.2 326.3 501.7 329.7 502.3 316.8 502.8 315.8 503.4 322.0 503.9 306.0 504.5 293.3 505.0 291.4 505.6 292.6 506.1 295.9 506.7 278.9 507.2 280.7 507.8 270.6 508.3 259.6 508.9 266.1 509.4 227.7 510.0 228.4 510.5 226.7 511.1 222.8 511.6 221.7 512.2 223.6 512.7 209.0 513.3 219.7 513.8 202.3 514.4 211.8 514.9 199.4 515.5 188.5 516.0 192.9 516.6 211.5 517.1 185.1 517.7 181.3 518.2 200.9 518.8 196.8 519.3 177.0 519.9 178.6 520.4 160.4 521.0 170.1 521.5 165.4 522.1 153.7 522.6 156.7 523.2 183.5 523.7 163.7 524.3 158.7 524.8 169.3 525.4 128.9 525.9 156.8 526.5 137.3 527.0 114.0 527.6 127.0 528.1 121.3 528.7 133.2 529.2 161.0 529.8 134.7 530.3 157.0 530.9 144.4 531.4 150.4 532.0 158.1 532.5 170.6 533.1 182.4 533.6 163.6 534.2 168.5 534.7 148.9 535.3 180.7 535.8 178.7 536.4 232.1 536.9 175.9 537.5 196.4 538.0 180.3 538.6 184.4 539.1 179.2 539.7 197.6 540.2 219.6 540.8 205.8 541.3 227.9 541.9 208.7 542.4 229.0 543.0 229.7 543.5 221.9 544.1 256.0 544.6 233.9 545.2 229.7 545.7 235.5 546.3 248.2 546.8 258.2 547.4 270.5 547.9 272.0 548.5 257.4 549.0 276.0 549.6 271.9 550.1 284.7 550.7 274.8 551.2 286.2 551.8 321.4 552.3 301.9 552.9 293.9 553.4 309.3 554.0 324.8 554.5 319.4 555.1 321.1 555.6 331.1 556.2 330.0 556.7 331.8 557.3 331.4 557.8 337.4 558.4 344.4 558.9 350.8 559.5 347.3 560.0 354.8 560.6 358.9 561.1 376.8 561.7 366.7 562.2 374.4 562.8 380.1 563.3 379.3 563.9 380.4 564.4 390.2 565.0 401.3 565.5 392.9 566.1 396.0 566.6 401.4 567.2 403.6 567.7 404.4 568.3 412.7 568.8 416.5 569.4 418.7 569.9 421.7 570.5 421.8 571.0 422.9 571.6 424.3 572.1 431.9 572.7 432.2 573.2 434.7 573.8 434.2 574.3 440.0 574.9 441.4 575.4 440.3 576.0 446.2 576.5 450.8 577.1 451.2 577.6 449.7 578.2 453.0 578.7 456.1 579.3 455.3 579.8 457.5 580.4 462.9 580.9 461.7 581.5 465.7 582.0 467.5 582.6 469.5 583.1 467.2 583.7 471.8 584.2 473.1 584.8 474.3 585.3 479.0 585.9 478.0 586.4 479.0 587.0 479.8 587.5 481.0 588.1 481.2 588.6 484.9 589.2 485.0 589.7 486.2 590.3 486.6 590.8 488.1 591.4 490.1 591.9 490.9 592.5 494.0 593.0 495.7 593.6 494.4 594.1 493.6 594.7 496.1 595.2 497.6 595.8 499.5 596.3 500.0 596.9 500.4 597.4 501.0 598.0 500.8 598.5 503.6 599.1 504.8 599.6 503.4 600.2 504.0 600.7 506.0 601.3 506.2 601.8 507.1 602.4 507.5 602.9 509.6 603.5 509.4 604.0 509.9 604.6 511.4 605.1 511.2 605.7 510.7 606.2 513.1 606.8 513.0 607.3 510.3 607.9 510.9 608.4 512.6 609.0 512.4 609.5 512.2 610.1 513.9 610.6 512.4 611.2 516.1 611.7 516.4 612.3 515.8 612.8 516.0 613.4 515.1 613.9 516.4 614.5 516.3 615.0 515.3 615.6 514.3 616.1 516.6 616.7 519.7 617.2 519.6 617.8 516.4 618.3 516.8 618.9 519.2 619.4 518.1 620.0 519.7 620.5 517.2 621.1 517.9 621.6 517.3 622.2 517.2 622.7 517.6 623.3 518.1 623.8 519.3 624.4 519.7 624.9 518.4 625.5 518.0 626.0 521.8 626.6 519.3 627.1 519.8 627.7 520.1 628.2 519.8 628.8 519.2 629.3 518.8 629.9 519.7 630.4 519.1 631.0 519.6 631.5 520.0 632.1 520.2 632.6 519.3 633.2 518.2 633.7 522.4 634.3 518.5 634.8 521.1 635.4 519.6 635.9 522.4 636.5 523.4 637.0 522.9 637.6 519.4 638.1 519.0 638.7 521.7 639.2 520.7 639.8 523.2 640.3 519.7 640.9 523.4 641.4 519.1 642.0 519.6 642.5 520.6 643.1 519.2 643.6 522.1 644.2 518.6 644.7 520.3 645.3 523.4 645.8 521.2 646.4 519.3 646.9 521.4 647.5 523.4 648.0 522.3 648.6 518.8 649.1 522.4 649.7 520.1 650.2 522.8 650.8 521.0 651.3 520.5 651.9 520.6 652.4 521.8 653.0 522.7 653.5 522.3 654.1 523.0 654.6 520.3 655.2 521.9 655.7 520.5 656.3 522.4 656.8 521.5 657.4 519.7 657.9 521.1 658.5 521.6 659.0 521.3 659.6 519.3 660.1 519.9 660.7 519.8 661.2 520.1 661.8 521.4 662.3 522.1 662.9 521.2 663.4 520.5 664.0 523.3 664.5 522.9 665.1 523.0 665.6 523.8 666.2 522.8 666.7 520.2 667.3 523.2 667.8 521.2 668.4 519.9 668.9 520.0 669.5 521.2 670.0 522.0 670.6 521.1 671.1 521.8 671.7 521.4 672.2 521.9 672.8 520.9 673.3 520.3 673.9 522.5 674.4 519.3 675.0 519.8 675.5 523.3 676.1 519.9 676.6 519.8 677.2 523.6 677.7 521.0 678.3 522.1 678.8 523.2 679.4 519.4 679.9 521.5 680.5 521.5 681.0 523.7 681.6 520.4 682.1 523.4 682.7 521.0 683.2 519.9 683.8 522.8 684.3 522.6 684.9 522.0 685.4 520.1 686.0 523.1 686.5 519.8 687.1 522.5 687.6 519.2 688.2 523.0 688.7 522.8 689.3 520.0 689.8 523.6 690.4 519.3 690.9 521.6 691.5 522.2 692.0 523.4 692.6 520.7 693.1 522.7 693.7 519.5 694.2 522.3 694.8 523.6 695.3 519.8 695.9 520.5 696.4 523.4 697.0 519.9 697.5 519.9 698.1 519.2 698.6 523.3 699.2 522.3 699.7 519.7 700.3 521.0 700.8 520.0 701.4 519.7 701.9 519.4 702.5 519.6 703.0 523.1 703.6 520.9 704.1 523.6 704.7 519.6 705.2 523.2 705.8 520.2 706.3 519.8 706.9 522.4 707.4 521.9 708.0 523.8 708.5 521.0 709.1 521.8 709.6 522.2 710.2 520.9 710.7 520.8 711.3 520.9 711.8 520.7 712.4 519.5 712.9 521.0 713.5 522.1 714.0 520.6 714.6 522.7 715.1 524.0 715.7 521.0 716.2 522.6 716.8 522.0 717.3 519.3 717.9 521.5 718.4 520.6 719.0 521.4 719.5 522.9 720.1 522.7 720.6 523.3 721.2 522.0 721.7 522.9 722.3 520.2 722.8 523.1 723.4 520.0 723.9 519.7 724.5 519.9 725.0 523.1 725.6 521.6 726.1 521.0 726.7 520.2 727.2 519.9 727.8 520.2 728.3 523.4 728.9 520.8 729.4 523.7 730.0 521.2 730.5 519.6 731.1 520.1 731.6 522.1 732.2 522.8 732.7 523.3 733.3 519.5 733.8 519.8 734.4 522.2 734.9 520.1 735.5 522.0 736.0 522.0 736.6 520.2 737.1 520.2 737.7 522.4 738.2 520.2 738.8 522.2 739.3 524.0 739.9 520.0 740.4 520.4 741.0 521.8 741.5 523.1 742.1 522.9 742.6 520.3 743.2 519.8 743.7 522.7 744.3 521.6 744.8 520.3 745.4 519.6 745.9 520.4 746.5 523.6 747.0 522.1 747.6 523.3 748.1 520.3 748.7 520.3 749.2 519.6 749.8 519.9 750.3 521.7 750.9 523.9 751.4 522.5 752.0 519.6 752.5 521.7 753.1 520.0 753.6 520.7 754.2 521.5 754.7 521.7 755.3 519.5 755.8 520.0 756.4 522.2 756.9 521.3 757.5 520.1 758.0 519.8 758.6 522.6 759.1 523.1 759.7 522.6 760.2 520.7 760.8 522.6 761.3 522.7 761.9 523.0 762.4 521.0 763.0 521.9 763.5 523.7 764.1 520.9 764.6 520.4 765.2 519.9 765.7 522.4 766.3 521.6 766.8 520.3 767.4 520.9 767.9 519.6 768.5 519.8 769.0 522.0 769.6 520.7 770.1 522.5 770.7 523.2 771.2 519.7 771.8 519.7 772.3 523.6 772.9 522.6 773.4 521.3 774.0 521.7 774.5 521.5 775.1 519.9 775.6 520.6 776.2 521.6 776.7 522.4 777.3 520.9 777.8 522.5 778.4 520.6 778.9 522.3 779.5 521.2 780.0 522.2 780.6 523.0 781.1 519.9 781.7 520.1 782.2 520.6 782.8 523.5 783.3 521.9 783.9 523.5 784.4 523.9 785.0 523.6 785.5 522.0 786.1 523.1 786.6 522.4 787.2 521.3 787.7 521.8 788.3 523.0 788.8 523.0 789.4 521.6 789.9 519.7 790.5 520.0 791.0 520.4 791.6 520.5 792.1 523.4 792.7 522.5 793.2 520.4 793.8 522.5 794.3 523.5 794.9 523.6 795.4 521.8 796.0 522.9 796.5 520.0 797.1 522.3 797.6 523.9 798.2 520.5 798.7 521.1 799.3 519.7 799.8 521.8 800.4 524.0 800.9 523.9 801.5 522.8 802.0 522.3 802.6 523.5 803.1 523.2 803.7 522.9 804.2 523.2 804.8 522.9 805.3 520.7 805.9 520.8 806.4 523.8 807.0 522.5 807.5 523.2 808.1 521.6 808.6 520.5 809.2 520.4 809.7 521.5 810.3 522.3 810.8 520.9 811.4 521.3 811.9 520.6 812.5 520.2 813.0 522.7 813.6 521.6 814.1 521.8 814.7 523.0 815.2 521.3 815.8 522.4 816.3 520.7 816.9 522.7 817.4 523.0 818.0 522.5 818.5 523.9 819.1 522.3 819.6 522.7 820.2 523.4 820.7 523.3 821.3 520.4 821.8 522.8 822.4 523.8 822.9 522.4 823.5 523.2 824.0 520.3 824.6 523.6 825.1 522.0 825.7 522.0 826.2 521.8 826.8 523.0 827.3 520.8 827.9 520.5 828.4 522.2 829.0 522.8 829.5 520.4 830.1 522.0 830.6 523.4 831.2 521.3 831.7 521.0 832.3 522.2 832.8 523.9 833.4 520.8 833.9 521.1 834.5 519.9 835.0 523.2 835.6 523.5 836.1 522.3 836.7 521.6 837.2 520.8 837.8 522.8 838.3 520.1 838.9 520.9 839.4 522.2 840.0 521.5 840.5 521.0 841.1 521.1 841.6 523.4 842.2 522.1 842.7 522.4 843.3 520.7 843.8 522.5 844.4 523.4 844.9 520.8 845.5 523.2 846.0 522.9 846.6 522.6 847.1 520.6 847.7 521.7 848.2 522.8 848.8 520.6 849.3 520.6 849.9 523.2 850.4 523.3 851.0 523.2 851.5 521.4 852.1 523.0 852.6 523.3 853.2 522.1" stroke="#f49734"/>
</g>
<g class="t" font-size="28" fill="#4a4a4a" text-anchor="middle">
<text transform="translate(98.9 553.8) scale(1 1.06)">2900</text>
<text transform="translate(202.1 553.8) scale(1 1.06)">3000</text>
<text transform="translate(309.5 553.8) scale(1 1.06)">3100</text>
<text transform="translate(418.7 553.8) scale(1 1.06)">3200</text>
<text transform="translate(532.2 553.8) scale(1 1.06)">3300</text>
<text transform="translate(634.7 553.8) scale(1 1.06)">3400</text>
<text transform="translate(742.9 553.8) scale(1 1.06)">3500</text>
<text transform="translate(851.4 553.8) scale(1 1.06)">3600</text>
<text transform="translate(67.2 117.6) scale(1 1.06)">1</text>
<text transform="translate(65.4 203.8) scale(1 1.06)">0.8</text>
<text transform="translate(65.4 284) scale(1 1.06)">0.6</text>
<text transform="translate(65.4 366) scale(1 1.06)">0.4</text>
<text transform="translate(65.4 448.2) scale(1 1.06)">0.2</text>
<text transform="translate(65.4 520.6) scale(1 1.06)">0</text>
</g>
<g fill="#fff"><rect x="59.8" y="114.6" width="5.6" height="4"/><rect x="70" y="114.6" width="5.5" height="4"/><rect x="295" y="550.6" width="5.6" height="4"/><rect x="304.7" y="550.6" width="5" height="4"/></g>
<text class="t" x="260" y="70" font-size="35" fill="#000">Typical spectra (linear scale)</text>
<text class="t" x="365.3" y="606.6" font-size="30.8" fill="#000">Wavelength [nm]</text>
</svg>
</body></html>
